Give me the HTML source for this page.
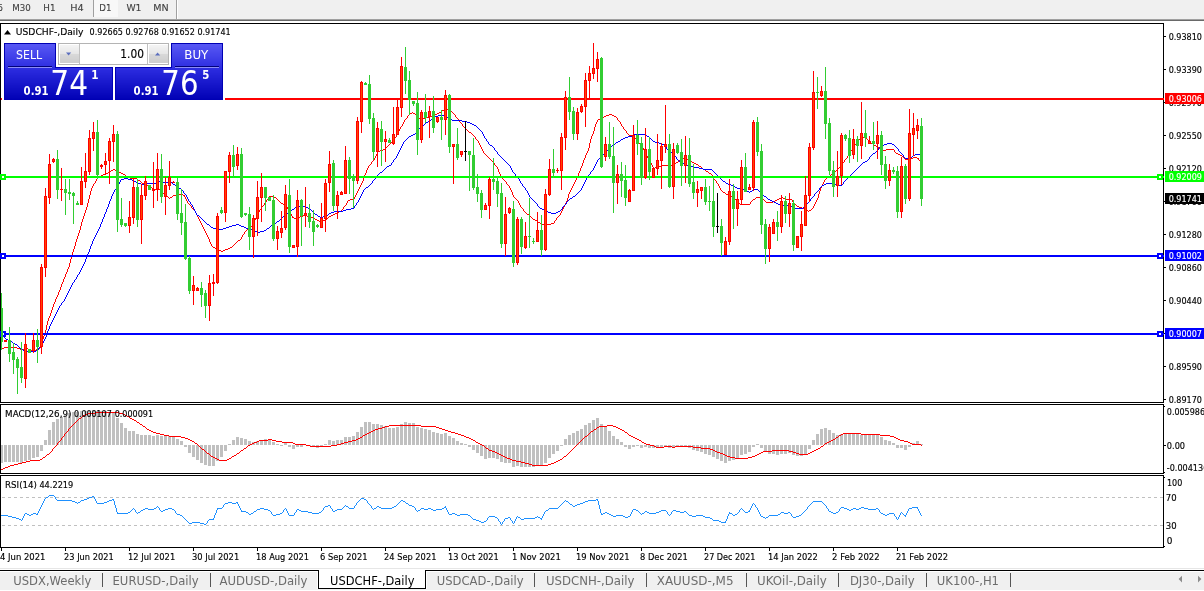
<!DOCTYPE html>
<html lang="en"><head><meta charset="utf-8"><title>USDCHF-,Daily</title>
<style>html,body{margin:0;padding:0;background:#fff;overflow:hidden}body{width:1204px;height:591px}svg{display:block}text{font-family:"DejaVu Sans","Liberation Sans",sans-serif;white-space:pre}</style>
</head><body>
<svg width="1204" height="591" viewBox="0 0 1204 591">
<rect x="0" y="0" width="1204" height="591" fill="#fff"/>
<g shape-rendering="crispEdges">
<rect x="0" y="0" width="1204" height="19" fill="#f0f0f0"/>
<rect x="0" y="19" width="1204" height="1" fill="#a0a0a0"/>
<rect x="0" y="20" width="1204" height="1" fill="#696969"/>
<rect x="94" y="0" width="24" height="17" fill="#f8f8f8"/>
<rect x="93" y="0" width="1" height="17" fill="#a0a0a0"/>
<rect x="176" y="0" width="1" height="19" fill="#a0a0a0"/>
<rect x="177" y="0" width="1" height="19" fill="#ffffff"/>
</g>
<text x="-15.0" y="11" font-size="9" fill="#404040" textLength="18.0" lengthAdjust="spacingAndGlyphs" stroke="#404040" stroke-width="0.1">M15</text>
<text x="12.2" y="11" font-size="9" fill="#404040" textLength="18.5" lengthAdjust="spacingAndGlyphs" stroke="#404040" stroke-width="0.1">M30</text>
<text x="43.3" y="11" font-size="9" fill="#404040" textLength="12.2" lengthAdjust="spacingAndGlyphs" stroke="#404040" stroke-width="0.1">H1</text>
<text x="70.2" y="11" font-size="9" fill="#404040" textLength="13.4" lengthAdjust="spacingAndGlyphs" stroke="#404040" stroke-width="0.1">H4</text>
<text x="99.3" y="11" font-size="9" fill="#404040" textLength="12.2" lengthAdjust="spacingAndGlyphs" stroke="#404040" stroke-width="0.1">D1</text>
<text x="126.4" y="11" font-size="9" fill="#404040" textLength="15.1" lengthAdjust="spacingAndGlyphs" stroke="#404040" stroke-width="0.1">W1</text>
<text x="153.3" y="11" font-size="9" fill="#404040" textLength="15.4" lengthAdjust="spacingAndGlyphs" stroke="#404040" stroke-width="0.1">MN</text>
<g shape-rendering="crispEdges">
<rect x="0" y="23" width="1164" height="1" fill="#000"/>
<rect x="0" y="23" width="1" height="380" fill="#000"/>
<rect x="1163" y="23" width="1" height="380" fill="#000"/>
<rect x="0" y="402" width="1164" height="1" fill="#000"/>
<rect x="0" y="404" width="1164" height="1" fill="#000"/>
<rect x="0" y="404" width="1" height="70" fill="#000"/>
<rect x="1163" y="404" width="1" height="70" fill="#000"/>
<rect x="0" y="473" width="1164" height="1" fill="#000"/>
<rect x="0" y="475" width="1164" height="1" fill="#000"/>
<rect x="0" y="475" width="1" height="73" fill="#000"/>
<rect x="1163" y="475" width="1" height="73" fill="#000"/>
<rect x="0" y="547" width="1164" height="1" fill="#000"/>
<rect x="1164" y="36" width="2" height="1" fill="#000"/>
<rect x="1164" y="69" width="2" height="1" fill="#000"/>
<rect x="1164" y="102" width="2" height="1" fill="#000"/>
<rect x="1164" y="135" width="2" height="1" fill="#000"/>
<rect x="1164" y="168" width="2" height="1" fill="#000"/>
<rect x="1164" y="201" width="2" height="1" fill="#000"/>
<rect x="1164" y="234" width="2" height="1" fill="#000"/>
<rect x="1164" y="267" width="2" height="1" fill="#000"/>
<rect x="1164" y="300" width="2" height="1" fill="#000"/>
<rect x="1164" y="333" width="2" height="1" fill="#000"/>
<rect x="1164" y="366" width="2" height="1" fill="#000"/>
<rect x="1164" y="399" width="2" height="1" fill="#000"/>
<rect x="1164" y="406" width="1" height="1" fill="#000"/>
<rect x="1164" y="472" width="1" height="1" fill="#000"/>
<rect x="1164" y="477" width="1" height="1" fill="#000"/>
<rect x="1164" y="546" width="1" height="1" fill="#000"/>
<rect x="1164" y="445" width="2" height="1" fill="#000"/>
<rect x="1" y="548" width="1" height="3" fill="#000"/>
<rect x="65" y="548" width="1" height="3" fill="#000"/>
<rect x="129" y="548" width="1" height="3" fill="#000"/>
<rect x="193" y="548" width="1" height="3" fill="#000"/>
<rect x="257" y="548" width="1" height="3" fill="#000"/>
<rect x="321" y="548" width="1" height="3" fill="#000"/>
<rect x="385" y="548" width="1" height="3" fill="#000"/>
<rect x="449" y="548" width="1" height="3" fill="#000"/>
<rect x="513" y="548" width="1" height="3" fill="#000"/>
<rect x="577" y="548" width="1" height="3" fill="#000"/>
<rect x="641" y="548" width="1" height="3" fill="#000"/>
<rect x="705" y="548" width="1" height="3" fill="#000"/>
<rect x="769" y="548" width="1" height="3" fill="#000"/>
<rect x="833" y="548" width="1" height="3" fill="#000"/>
<rect x="897" y="548" width="1" height="3" fill="#000"/>
</g>
<text x="1168.7" y="40" font-size="9" fill="#000" textLength="33.3" lengthAdjust="spacingAndGlyphs" stroke="#000" stroke-width="0.15">0.93810</text>
<text x="1168.7" y="73" font-size="9" fill="#000" textLength="33.3" lengthAdjust="spacingAndGlyphs" stroke="#000" stroke-width="0.15">0.93390</text>
<text x="1168.7" y="106" font-size="9" fill="#000" textLength="33.3" lengthAdjust="spacingAndGlyphs" stroke="#000" stroke-width="0.15">0.92970</text>
<text x="1168.7" y="139" font-size="9" fill="#000" textLength="33.3" lengthAdjust="spacingAndGlyphs" stroke="#000" stroke-width="0.15">0.92550</text>
<text x="1168.7" y="172" font-size="9" fill="#000" textLength="33.3" lengthAdjust="spacingAndGlyphs" stroke="#000" stroke-width="0.15">0.92120</text>
<text x="1168.7" y="205" font-size="9" fill="#000" textLength="33.3" lengthAdjust="spacingAndGlyphs" stroke="#000" stroke-width="0.15">0.91700</text>
<text x="1168.7" y="238" font-size="9" fill="#000" textLength="33.3" lengthAdjust="spacingAndGlyphs" stroke="#000" stroke-width="0.15">0.91280</text>
<text x="1168.7" y="271" font-size="9" fill="#000" textLength="33.3" lengthAdjust="spacingAndGlyphs" stroke="#000" stroke-width="0.15">0.90860</text>
<text x="1168.7" y="304" font-size="9" fill="#000" textLength="33.3" lengthAdjust="spacingAndGlyphs" stroke="#000" stroke-width="0.15">0.90440</text>
<text x="1168.7" y="337" font-size="9" fill="#000" textLength="33.3" lengthAdjust="spacingAndGlyphs" stroke="#000" stroke-width="0.15">0.90020</text>
<text x="1168.7" y="370" font-size="9" fill="#000" textLength="33.3" lengthAdjust="spacingAndGlyphs" stroke="#000" stroke-width="0.15">0.89590</text>
<text x="1168.7" y="403" font-size="9" fill="#000" textLength="33.3" lengthAdjust="spacingAndGlyphs" stroke="#000" stroke-width="0.15">0.89170</text>
<text x="1166.8" y="415" font-size="9" fill="#000" textLength="38.2" lengthAdjust="spacingAndGlyphs" stroke="#000" stroke-width="0.15">0.005986</text>
<text x="1166.8" y="449" font-size="9" fill="#000" textLength="18.3" lengthAdjust="spacingAndGlyphs" stroke="#000" stroke-width="0.15">0.00</text>
<text x="1166.8" y="471" font-size="9" fill="#000" textLength="41.5" lengthAdjust="spacingAndGlyphs" stroke="#000" stroke-width="0.15">-0.004136</text>
<text x="1167.0" y="486" font-size="9" fill="#000" textLength="15.3" lengthAdjust="spacingAndGlyphs" stroke="#000" stroke-width="0.15">100</text>
<text x="1165.8" y="501" font-size="9" fill="#000" textLength="10.8" lengthAdjust="spacingAndGlyphs" stroke="#000" stroke-width="0.15">70</text>
<text x="1165.8" y="529" font-size="9" fill="#000" textLength="10.8" lengthAdjust="spacingAndGlyphs" stroke="#000" stroke-width="0.15">30</text>
<text x="1166.8" y="544" font-size="9" fill="#000" textLength="5.7" lengthAdjust="spacingAndGlyphs" stroke="#000" stroke-width="0.15">0</text>
<text x="0.0" y="560" font-size="9" fill="#000" textLength="45.5" lengthAdjust="spacingAndGlyphs" stroke="#000" stroke-width="0.15">4 Jun 2021</text>
<text x="64.0" y="560" font-size="9" fill="#000" textLength="49.7" lengthAdjust="spacingAndGlyphs" stroke="#000" stroke-width="0.15">23 Jun 2021</text>
<text x="128.0" y="560" font-size="9" fill="#000" textLength="47.2" lengthAdjust="spacingAndGlyphs" stroke="#000" stroke-width="0.15">12 Jul 2021</text>
<text x="192.0" y="560" font-size="9" fill="#000" textLength="47.2" lengthAdjust="spacingAndGlyphs" stroke="#000" stroke-width="0.15">30 Jul 2021</text>
<text x="256.0" y="560" font-size="9" fill="#000" textLength="53.0" lengthAdjust="spacingAndGlyphs" stroke="#000" stroke-width="0.15">18 Aug 2021</text>
<text x="320.0" y="560" font-size="9" fill="#000" textLength="47.5" lengthAdjust="spacingAndGlyphs" stroke="#000" stroke-width="0.15">6 Sep 2021</text>
<text x="384.0" y="560" font-size="9" fill="#000" textLength="52.4" lengthAdjust="spacingAndGlyphs" stroke="#000" stroke-width="0.15">24 Sep 2021</text>
<text x="448.0" y="560" font-size="9" fill="#000" textLength="50.8" lengthAdjust="spacingAndGlyphs" stroke="#000" stroke-width="0.15">13 Oct 2021</text>
<text x="512.0" y="560" font-size="9" fill="#000" textLength="48.8" lengthAdjust="spacingAndGlyphs" stroke="#000" stroke-width="0.15">1 Nov 2021</text>
<text x="576.0" y="560" font-size="9" fill="#000" textLength="53.6" lengthAdjust="spacingAndGlyphs" stroke="#000" stroke-width="0.15">19 Nov 2021</text>
<text x="640.0" y="560" font-size="9" fill="#000" textLength="47.8" lengthAdjust="spacingAndGlyphs" stroke="#000" stroke-width="0.15">8 Dec 2021</text>
<text x="704.0" y="560" font-size="9" fill="#000" textLength="51.5" lengthAdjust="spacingAndGlyphs" stroke="#000" stroke-width="0.15">27 Dec 2021</text>
<text x="768.0" y="560" font-size="9" fill="#000" textLength="49.9" lengthAdjust="spacingAndGlyphs" stroke="#000" stroke-width="0.15">14 Jan 2022</text>
<text x="832.0" y="560" font-size="9" fill="#000" textLength="47.7" lengthAdjust="spacingAndGlyphs" stroke="#000" stroke-width="0.15">2 Feb 2022</text>
<text x="896.0" y="560" font-size="9" fill="#000" textLength="52.2" lengthAdjust="spacingAndGlyphs" stroke="#000" stroke-width="0.15">21 Feb 2022</text>
<g shape-rendering="crispEdges">
<line x1="2" y1="497.5" x2="1163" y2="497.5" stroke="#c0c0c0" stroke-width="1" stroke-dasharray="3 3"/>
<line x1="2" y1="525.5" x2="1163" y2="525.5" stroke="#c0c0c0" stroke-width="1" stroke-dasharray="3 3"/>
</g>
<g>
<g shape-rendering="crispEdges" fill="#c0c0c0">
<rect x="1" y="445" width="2" height="18"/>
<rect x="4" y="445" width="3" height="17"/>
<rect x="8" y="445" width="3" height="17"/>
<rect x="12" y="445" width="3" height="17"/>
<rect x="16" y="445" width="3" height="17"/>
<rect x="20" y="445" width="3" height="18"/>
<rect x="24" y="445" width="3" height="16"/>
<rect x="28" y="445" width="3" height="15"/>
<rect x="32" y="445" width="3" height="13"/>
<rect x="36" y="445" width="3" height="12"/>
<rect x="40" y="445" width="3" height="6"/>
<rect x="44" y="440" width="3" height="5"/>
<rect x="48" y="430" width="3" height="15"/>
<rect x="52" y="422" width="3" height="23"/>
<rect x="56" y="419" width="3" height="26"/>
<rect x="60" y="417" width="3" height="28"/>
<rect x="64" y="415" width="3" height="30"/>
<rect x="68" y="413" width="3" height="32"/>
<rect x="72" y="412" width="3" height="33"/>
<rect x="76" y="412" width="3" height="33"/>
<rect x="80" y="411" width="3" height="34"/>
<rect x="84" y="411" width="3" height="34"/>
<rect x="88" y="411" width="3" height="34"/>
<rect x="92" y="410" width="3" height="35"/>
<rect x="96" y="411" width="3" height="34"/>
<rect x="100" y="411" width="3" height="34"/>
<rect x="104" y="411" width="3" height="34"/>
<rect x="108" y="412" width="3" height="33"/>
<rect x="112" y="413" width="3" height="32"/>
<rect x="116" y="418" width="3" height="27"/>
<rect x="120" y="423" width="3" height="22"/>
<rect x="124" y="428" width="3" height="17"/>
<rect x="128" y="431" width="3" height="14"/>
<rect x="132" y="431" width="3" height="14"/>
<rect x="136" y="434" width="3" height="11"/>
<rect x="140" y="435" width="3" height="10"/>
<rect x="144" y="435" width="3" height="10"/>
<rect x="148" y="435" width="3" height="10"/>
<rect x="152" y="436" width="3" height="9"/>
<rect x="156" y="435" width="3" height="10"/>
<rect x="160" y="436" width="3" height="9"/>
<rect x="164" y="436" width="3" height="9"/>
<rect x="168" y="436" width="3" height="9"/>
<rect x="172" y="437" width="3" height="8"/>
<rect x="176" y="439" width="3" height="6"/>
<rect x="180" y="441" width="3" height="4"/>
<rect x="184" y="445" width="3" height="2"/>
<rect x="188" y="445" width="3" height="8"/>
<rect x="192" y="445" width="3" height="12"/>
<rect x="196" y="445" width="3" height="15"/>
<rect x="200" y="445" width="3" height="18"/>
<rect x="204" y="445" width="3" height="20"/>
<rect x="208" y="445" width="3" height="21"/>
<rect x="212" y="445" width="3" height="21"/>
<rect x="216" y="445" width="3" height="16"/>
<rect x="220" y="445" width="3" height="12"/>
<rect x="224" y="445" width="3" height="6"/>
<rect x="228" y="444" width="3" height="1"/>
<rect x="232" y="440" width="3" height="5"/>
<rect x="236" y="437" width="3" height="8"/>
<rect x="240" y="438" width="3" height="7"/>
<rect x="244" y="439" width="3" height="6"/>
<rect x="248" y="441" width="3" height="4"/>
<rect x="252" y="442" width="3" height="3"/>
<rect x="256" y="441" width="3" height="4"/>
<rect x="260" y="440" width="3" height="5"/>
<rect x="264" y="439" width="3" height="6"/>
<rect x="268" y="440" width="3" height="5"/>
<rect x="272" y="442" width="3" height="3"/>
<rect x="276" y="444" width="3" height="1"/>
<rect x="280" y="445" width="3" height="1"/>
<rect x="284" y="443" width="3" height="2"/>
<rect x="288" y="445" width="3" height="2"/>
<rect x="292" y="445" width="3" height="4"/>
<rect x="296" y="445" width="3" height="2"/>
<rect x="300" y="445" width="3" height="2"/>
<rect x="308" y="445" width="3" height="1"/>
<rect x="312" y="445" width="3" height="1"/>
<rect x="316" y="445" width="3" height="3"/>
<rect x="320" y="445" width="3" height="1"/>
<rect x="324" y="444" width="3" height="1"/>
<rect x="328" y="440" width="3" height="5"/>
<rect x="332" y="441" width="3" height="4"/>
<rect x="336" y="440" width="3" height="5"/>
<rect x="340" y="440" width="3" height="5"/>
<rect x="344" y="437" width="3" height="8"/>
<rect x="348" y="437" width="3" height="8"/>
<rect x="352" y="436" width="3" height="9"/>
<rect x="356" y="432" width="3" height="13"/>
<rect x="360" y="427" width="3" height="18"/>
<rect x="364" y="422" width="3" height="23"/>
<rect x="368" y="422" width="3" height="23"/>
<rect x="372" y="424" width="3" height="21"/>
<rect x="376" y="424" width="3" height="21"/>
<rect x="380" y="425" width="3" height="20"/>
<rect x="384" y="426" width="3" height="19"/>
<rect x="388" y="428" width="3" height="17"/>
<rect x="392" y="428" width="3" height="17"/>
<rect x="396" y="427" width="3" height="18"/>
<rect x="400" y="424" width="3" height="21"/>
<rect x="404" y="422" width="3" height="23"/>
<rect x="408" y="423" width="3" height="22"/>
<rect x="412" y="423" width="3" height="22"/>
<rect x="416" y="427" width="3" height="18"/>
<rect x="420" y="428" width="3" height="17"/>
<rect x="424" y="429" width="3" height="16"/>
<rect x="428" y="430" width="3" height="15"/>
<rect x="432" y="432" width="3" height="13"/>
<rect x="436" y="433" width="3" height="12"/>
<rect x="440" y="434" width="3" height="11"/>
<rect x="444" y="433" width="3" height="12"/>
<rect x="448" y="436" width="3" height="9"/>
<rect x="452" y="438" width="3" height="7"/>
<rect x="456" y="441" width="3" height="4"/>
<rect x="460" y="443" width="3" height="2"/>
<rect x="464" y="444" width="3" height="1"/>
<rect x="468" y="445" width="3" height="2"/>
<rect x="472" y="445" width="3" height="5"/>
<rect x="476" y="445" width="3" height="8"/>
<rect x="480" y="445" width="3" height="11"/>
<rect x="484" y="445" width="3" height="14"/>
<rect x="488" y="445" width="3" height="13"/>
<rect x="492" y="445" width="3" height="13"/>
<rect x="496" y="445" width="3" height="14"/>
<rect x="500" y="445" width="3" height="17"/>
<rect x="504" y="445" width="3" height="18"/>
<rect x="508" y="445" width="3" height="18"/>
<rect x="512" y="445" width="3" height="22"/>
<rect x="516" y="445" width="3" height="21"/>
<rect x="520" y="445" width="3" height="22"/>
<rect x="524" y="445" width="3" height="22"/>
<rect x="528" y="445" width="3" height="22"/>
<rect x="532" y="445" width="3" height="22"/>
<rect x="536" y="445" width="3" height="20"/>
<rect x="540" y="445" width="3" height="20"/>
<rect x="544" y="445" width="3" height="18"/>
<rect x="548" y="445" width="3" height="13"/>
<rect x="552" y="445" width="3" height="9"/>
<rect x="556" y="445" width="3" height="6"/>
<rect x="560" y="445" width="3" height="1"/>
<rect x="564" y="439" width="3" height="6"/>
<rect x="568" y="435" width="3" height="10"/>
<rect x="572" y="433" width="3" height="12"/>
<rect x="576" y="431" width="3" height="14"/>
<rect x="580" y="429" width="3" height="16"/>
<rect x="584" y="425" width="3" height="20"/>
<rect x="588" y="423" width="3" height="22"/>
<rect x="592" y="420" width="3" height="25"/>
<rect x="596" y="418" width="3" height="27"/>
<rect x="600" y="424" width="3" height="21"/>
<rect x="604" y="426" width="3" height="19"/>
<rect x="608" y="431" width="3" height="14"/>
<rect x="612" y="436" width="3" height="9"/>
<rect x="616" y="439" width="3" height="6"/>
<rect x="620" y="442" width="3" height="3"/>
<rect x="624" y="445" width="3" height="2"/>
<rect x="628" y="445" width="3" height="4"/>
<rect x="632" y="445" width="3" height="2"/>
<rect x="636" y="445" width="3" height="1"/>
<rect x="640" y="445" width="3" height="3"/>
<rect x="644" y="445" width="3" height="2"/>
<rect x="648" y="445" width="3" height="3"/>
<rect x="652" y="445" width="3" height="3"/>
<rect x="656" y="445" width="3" height="3"/>
<rect x="660" y="445" width="3" height="2"/>
<rect x="664" y="445" width="3" height="1"/>
<rect x="668" y="445" width="3" height="3"/>
<rect x="672" y="445" width="3" height="3"/>
<rect x="676" y="445" width="3" height="1"/>
<rect x="680" y="445" width="3" height="1"/>
<rect x="684" y="445" width="3" height="1"/>
<rect x="688" y="445" width="3" height="3"/>
<rect x="692" y="445" width="3" height="5"/>
<rect x="696" y="445" width="3" height="6"/>
<rect x="700" y="445" width="3" height="7"/>
<rect x="704" y="445" width="3" height="9"/>
<rect x="708" y="445" width="3" height="10"/>
<rect x="712" y="445" width="3" height="12"/>
<rect x="716" y="445" width="3" height="14"/>
<rect x="720" y="445" width="3" height="16"/>
<rect x="724" y="445" width="3" height="18"/>
<rect x="728" y="445" width="3" height="16"/>
<rect x="732" y="445" width="3" height="15"/>
<rect x="736" y="445" width="3" height="13"/>
<rect x="740" y="445" width="3" height="10"/>
<rect x="744" y="445" width="3" height="9"/>
<rect x="748" y="445" width="3" height="7"/>
<rect x="752" y="445" width="3" height="2"/>
<rect x="756" y="444" width="3" height="1"/>
<rect x="760" y="445" width="3" height="3"/>
<rect x="764" y="445" width="3" height="6"/>
<rect x="768" y="445" width="3" height="9"/>
<rect x="772" y="445" width="3" height="9"/>
<rect x="776" y="445" width="3" height="10"/>
<rect x="780" y="445" width="3" height="9"/>
<rect x="784" y="445" width="3" height="9"/>
<rect x="788" y="445" width="3" height="8"/>
<rect x="792" y="445" width="3" height="10"/>
<rect x="796" y="445" width="3" height="11"/>
<rect x="800" y="445" width="3" height="11"/>
<rect x="804" y="445" width="3" height="10"/>
<rect x="808" y="445" width="3" height="4"/>
<rect x="812" y="440" width="3" height="5"/>
<rect x="816" y="434" width="3" height="11"/>
<rect x="820" y="429" width="3" height="16"/>
<rect x="824" y="428" width="3" height="17"/>
<rect x="828" y="430" width="3" height="15"/>
<rect x="832" y="433" width="3" height="12"/>
<rect x="836" y="435" width="3" height="10"/>
<rect x="840" y="434" width="3" height="11"/>
<rect x="844" y="434" width="3" height="11"/>
<rect x="848" y="434" width="3" height="11"/>
<rect x="852" y="434" width="3" height="11"/>
<rect x="856" y="434" width="3" height="11"/>
<rect x="860" y="435" width="3" height="10"/>
<rect x="864" y="435" width="3" height="10"/>
<rect x="868" y="435" width="3" height="10"/>
<rect x="872" y="435" width="3" height="10"/>
<rect x="876" y="435" width="3" height="10"/>
<rect x="880" y="437" width="3" height="8"/>
<rect x="884" y="440" width="3" height="5"/>
<rect x="888" y="441" width="3" height="4"/>
<rect x="892" y="443" width="3" height="2"/>
<rect x="896" y="445" width="3" height="3"/>
<rect x="900" y="445" width="3" height="3"/>
<rect x="904" y="445" width="3" height="5"/>
<rect x="908" y="445" width="3" height="2"/>
<rect x="912" y="443" width="3" height="2"/>
<rect x="916" y="441" width="3" height="4"/>
<rect x="920" y="444" width="3" height="1"/>
</g>
<path d="M160 434h4v1h-4zM365 434h2v1h-2zM458 434h3v1h-3zM841 434h2v1h-2zM861 434h19v1h-19zM188 439h2v1h-2zM268 439h4v1h-4zM356 439h2v1h-2zM471 439h2v1h-2zM637 439h2v1h-2zM833 439h2v1h-2zM898 439h2v1h-2zM192 441h2v1h-2zM257 441h2v1h-2zM276 441h6v1h-6zM348 441h4v1h-4zM829 441h2v1h-2zM904 441h4v1h-4zM254 442h3v1h-3zM282 442h11v1h-11zM344 442h4v1h-4zM476 442h2v1h-2zM642 442h2v1h-2zM827 442h2v1h-2zM908 442h2v1h-2zM143 426h2v1h-2zM385 426h4v1h-4zM421 426h15v1h-15zM599 426h8v1h-8zM613 426h3v1h-3zM47 454h2v1h-2zM499 454h2v1h-2zM723 454h2v1h-2zM757 454h2v1h-2zM799 454h9v1h-9zM310 446h21v1h-21zM654 446h2v1h-2zM664 446h8v1h-8zM675 446h18v1h-18zM821 446h2v1h-2zM211 456h2v1h-2zM232 456h2v1h-2zM503 456h2v1h-2zM564 456h2v1h-2zM727 456h3v1h-3zM752 456h3v1h-3zM156 433h4v1h-4zM367 433h2v1h-2zM455 433h3v1h-3zM843 433h18v1h-18zM40 459h2v1h-2zM217 459h2v1h-2zM227 459h2v1h-2zM510 459h2v1h-2zM560 459h2v1h-2zM207 453h2v1h-2zM237 453h2v1h-2zM497 453h2v1h-2zM720 453h3v1h-3zM759 453h2v1h-2zM796 453h3v1h-3zM808 453h2v1h-2zM18 463h4v1h-4zM525 463h4v1h-4zM551 463h3v1h-3zM215 458h2v1h-2zM229 458h2v1h-2zM507 458h3v1h-3zM735 458h13v1h-13zM26 461h4v1h-4zM516 461h5v1h-5zM556 461h2v1h-2zM164 435h5v1h-5zM363 435h2v1h-2zM461 435h3v1h-3zM629 435h2v1h-2zM839 435h2v1h-2zM880 435h10v1h-10zM378 428h4v1h-4zM439 428h3v1h-3zM618 428h2v1h-2zM43 457h2v1h-2zM213 457h2v1h-2zM505 457h2v1h-2zM730 457h5v1h-5zM748 457h4v1h-4zM241 450h2v1h-2zM489 450h3v1h-3zM713 450h2v1h-2zM772 450h17v1h-17zM814 450h2v1h-2zM234 455h2v1h-2zM501 455h2v1h-2zM725 455h2v1h-2zM755 455h2v1h-2zM30 460h10v1h-10zM219 460h8v1h-8zM512 460h4v1h-4zM558 460h2v1h-2zM202 449h2v1h-2zM710 449h3v1h-3zM816 449h2v1h-2zM10 465h4v1h-4zM532 465h16v1h-16zM95 412h24v1h-24zM250 444h2v1h-2zM295 444h11v1h-11zM337 444h4v1h-4zM480 444h2v1h-2zM646 444h4v1h-4zM912 444h9v1h-9zM382 427h3v1h-3zM436 427h3v1h-3zM597 427h2v1h-2zM616 427h2v1h-2zM169 436h12v1h-12zM464 436h2v1h-2zM585 436h2v1h-2zM631 436h2v1h-2zM890 436h4v1h-4zM153 432h3v1h-3zM369 432h2v1h-2zM451 432h4v1h-4zM625 432h2v1h-2zM147 429h2v1h-2zM375 429h3v1h-3zM442 429h3v1h-3zM594 429h2v1h-2zM620 429h2v1h-2zM185 438h3v1h-3zM358 438h2v1h-2zM469 438h2v1h-2zM635 438h2v1h-2zM896 438h2v1h-2zM190 440h2v1h-2zM259 440h9v1h-9zM272 440h4v1h-4zM352 440h4v1h-4zM473 440h2v1h-2zM639 440h2v1h-2zM831 440h2v1h-2zM900 440h4v1h-4zM244 448h2v1h-2zM486 448h2v1h-2zM701 448h9v1h-9zM818 448h2v1h-2zM656 447h8v1h-8zM672 447h3v1h-3zM693 447h8v1h-8zM151 431h2v1h-2zM371 431h2v1h-2zM448 431h3v1h-3zM591 431h2v1h-2zM389 425h32v1h-32zM607 425h6v1h-6zM248 445h2v1h-2zM306 445h4v1h-4zM331 445h6v1h-6zM482 445h2v1h-2zM650 445h4v1h-4zM3 468h2v1h-2zM492 451h3v1h-3zM715 451h2v1h-2zM763 451h9v1h-9zM789 451h4v1h-4zM812 451h2v1h-2zM495 452h2v1h-2zM717 452h3v1h-3zM761 452h2v1h-2zM793 452h3v1h-3zM810 452h2v1h-2zM181 437h4v1h-4zM360 437h2v1h-2zM466 437h3v1h-3zM633 437h2v1h-2zM836 437h2v1h-2zM894 437h2v1h-2zM79 418h2v1h-2zM130 418h2v1h-2zM22 462h4v1h-4zM521 462h4v1h-4zM554 462h2v1h-2zM134 420h2v1h-2zM14 464h4v1h-4zM529 464h3v1h-3zM548 464h3v1h-3zM88 413h7v1h-7zM119 413h4v1h-4zM127 416h2v1h-2zM195 443h2v1h-2zM252 443h2v1h-2zM293 443h2v1h-2zM341 443h3v1h-3zM478 443h2v1h-2zM644 443h2v1h-2zM825 443h2v1h-2zM910 443h2v1h-2zM149 430h2v1h-2zM373 430h2v1h-2zM445 430h3v1h-3zM622 430h2v1h-2zM85 414h3v1h-3zM123 414h2v1h-2zM5 467h3v1h-3zM140 424h2v1h-2zM8 466h2v1h-2zM83 415h2v1h-2zM125 415h2v1h-2zM132 419h2v1h-2zM1 469h2v1h-2zM137 422h2v1h-2zM209 454h1v1h-1zM577 444h1v1h-1zM49 453h1v1h-1zM562 458h1v1h-1zM567 454h1v1h-1zM568 453h1v1h-1zM62 437h1v1h-1zM63 436h1v1h-1zM566 455h1v1h-1zM58 442h1v1h-1zM59 441h1v1h-1zM61 438h1v2h-1zM204 450h1v1h-1zM57 443h1v2h-1zM835 438h1v1h-1zM53 448h1v1h-1zM824 444h1v1h-1zM488 449h1v1h-1zM205 451h1v1h-1zM71 426h1v1h-1zM139 423h1v1h-1zM67 431h1v1h-1zM69 428h1v1h-1zM70 427h1v1h-1zM838 436h1v1h-1zM576 445h1v1h-1zM65 433h1v1h-1zM66 432h1v1h-1zM68 429h1v2h-1zM574 447h1v1h-1zM575 446h1v1h-1zM247 446h1v1h-1zM64 434h1v2h-1zM921 445h1v1h-1zM475 441h1v1h-1zM573 448h1v1h-1zM246 447h1v1h-1zM197 444h1v1h-1zM236 454h1v1h-1zM145 427h1v1h-1zM823 445h1v1h-1zM239 452h1v1h-1zM198 445h1v1h-1zM77 420h1v1h-1zM78 419h1v1h-1zM641 441h1v1h-1zM590 432h1v1h-1zM627 433h1v1h-1zM628 434h1v1h-1zM199 446h1v1h-1zM76 421h1v1h-1zM210 455h1v1h-1zM82 416h1v1h-1zM146 428h1v1h-1zM583 438h1v1h-1zM584 437h1v1h-1zM589 433h1v1h-1zM362 436h1v1h-1zM582 439h1v1h-1zM55 446h1v1h-1zM587 435h1v1h-1zM56 445h1v1h-1zM129 417h1v1h-1zM51 451h1v1h-1zM52 449h1v2h-1zM484 446h1v1h-1zM572 449h1v1h-1zM201 448h1v1h-1zM42 458h1v1h-1zM571 450h1v1h-1zM240 451h1v1h-1zM45 456h1v1h-1zM231 457h1v1h-1zM569 452h1v1h-1zM570 451h1v1h-1zM485 447h1v1h-1zM243 449h1v1h-1zM60 440h1v1h-1zM563 457h1v1h-1zM81 417h1v1h-1zM588 434h1v1h-1zM593 430h1v1h-1zM200 447h1v1h-1zM74 423h1v1h-1zM75 422h1v1h-1zM581 440h1v1h-1zM820 447h1v1h-1zM72 425h1v1h-1zM73 424h1v1h-1zM596 428h1v1h-1zM579 442h1v1h-1zM194 442h1v1h-1zM580 441h1v1h-1zM46 455h1v1h-1zM54 447h1v1h-1zM624 431h1v1h-1zM578 443h1v1h-1zM50 452h1v1h-1zM136 421h1v1h-1zM206 452h1v1h-1zM142 425h1v1h-1z" fill="#ff0000" shape-rendering="crispEdges"/>
</g>
<g>
<path d="M145 508h3v1h-3zM154 508h2v1h-2zM168 508h4v1h-4zM217 508h5v1h-5zM260 508h4v1h-4zM349 508h5v1h-5zM374 508h2v1h-2zM381 508h11v1h-11zM421 508h3v1h-3zM428 508h3v1h-3zM442 508h2v1h-2zM549 508h9v1h-9zM844 508h3v1h-3zM853 508h3v1h-3zM859 508h2v1h-2zM864 508h4v1h-4zM876 508h2v1h-2zM909 508h3v1h-3zM128 512h2v1h-2zM138 512h2v1h-2zM246 512h2v1h-2zM308 512h4v1h-4zM319 512h2v1h-2zM605 512h2v1h-2zM647 512h2v1h-2zM656 512h3v1h-3zM680 512h4v1h-4zM745 512h3v1h-3zM781 512h3v1h-3zM788 512h2v1h-2zM831 512h2v1h-2zM836 512h2v1h-2zM97 503h7v1h-7zM225 503h3v1h-3zM232 503h4v1h-4zM406 503h2v1h-2zM580 503h3v1h-3zM570 504h2v1h-2zM577 504h3v1h-3zM12 517h4v1h-4zM495 517h2v1h-2zM508 517h2v1h-2zM518 517h2v1h-2zM535 517h2v1h-2zM538 517h2v1h-2zM625 517h3v1h-3zM705 517h5v1h-5zM763 517h2v1h-2zM766 517h2v1h-2zM793 517h3v1h-3zM57 500h15v1h-15zM81 500h3v1h-3zM109 500h3v1h-3zM401 500h2v1h-2zM588 500h8v1h-8zM141 510h2v1h-2zM163 510h2v1h-2zM268 510h2v1h-2zM299 510h2v1h-2zM335 510h2v1h-2zM418 510h2v1h-2zM433 510h3v1h-3zM546 510h2v1h-2zM636 510h2v1h-2zM661 510h5v1h-5zM673 510h3v1h-3zM849 510h2v1h-2zM75 502h2v1h-2zM78 502h2v1h-2zM104 502h3v1h-3zM228 502h4v1h-4zM236 502h2v1h-2zM583 502h2v1h-2zM19 519h2v1h-2zM209 519h5v1h-5zM473 519h3v1h-3zM521 519h3v1h-3zM325 506h3v1h-3zM346 506h2v1h-2zM377 506h2v1h-2zM394 506h2v1h-2zM412 506h2v1h-2zM573 506h2v1h-2zM1 515h7v1h-7zM29 515h2v1h-2zM180 515h2v1h-2zM273 515h3v1h-3zM289 515h5v1h-5zM457 515h3v1h-3zM468 515h2v1h-2zM611 515h2v1h-2zM616 515h7v1h-7zM689 515h3v1h-3zM696 515h7v1h-7zM733 515h2v1h-2zM769 515h9v1h-9zM799 515h2v1h-2zM885 515h2v1h-2zM904 515h2v1h-2zM143 509h2v1h-2zM148 509h6v1h-6zM165 509h3v1h-3zM172 509h2v1h-2zM257 509h3v1h-3zM264 509h4v1h-4zM297 509h2v1h-2zM337 509h5v1h-5zM424 509h4v1h-4zM431 509h2v1h-2zM436 509h6v1h-6zM633 509h3v1h-3zM847 509h2v1h-2zM851 509h2v1h-2zM856 509h3v1h-3zM868 509h8v1h-8zM328 505h2v1h-2zM409 505h3v1h-3zM575 505h2v1h-2zM72 501h3v1h-3zM107 501h2v1h-2zM403 501h2v1h-2zM566 501h2v1h-2zM585 501h3v1h-3zM813 501h9v1h-9zM25 513h2v1h-2zM33 513h3v1h-3zM117 513h11v1h-11zM251 513h2v1h-2zM280 513h2v1h-2zM312 513h7v1h-7zM452 513h3v1h-3zM603 513h2v1h-2zM607 513h2v1h-2zM642 513h2v1h-2zM649 513h7v1h-7zM729 513h3v1h-3zM784 513h4v1h-4zM833 513h3v1h-3zM881 513h2v1h-2zM889 513h5v1h-5zM189 523h3v1h-3zM200 523h4v1h-4zM8 516h4v1h-4zM489 516h6v1h-6zM613 516h3v1h-3zM623 516h2v1h-2zM628 516h2v1h-2zM692 516h4v1h-4zM703 516h2v1h-2zM761 516h2v1h-2zM796 516h3v1h-3zM161 511h2v1h-2zM241 511h5v1h-5zM254 511h2v1h-2zM301 511h7v1h-7zM333 511h2v1h-2zM645 511h2v1h-2zM659 511h2v1h-2zM676 511h4v1h-4zM684 511h2v1h-2zM748 511h2v1h-2zM829 511h2v1h-2zM16 518h3v1h-3zM505 518h3v1h-3zM524 518h11v1h-11zM540 518h2v1h-2zM710 518h2v1h-2zM479 521h2v1h-2zM484 521h2v1h-2zM719 521h2v1h-2zM379 507h2v1h-2zM392 507h2v1h-2zM444 507h2v1h-2zM841 507h3v1h-3zM861 507h3v1h-3zM912 507h6v1h-6zM49 495h5v1h-5zM192 522h8v1h-8zM481 522h3v1h-3zM721 522h5v1h-5zM87 498h2v1h-2zM361 498h3v1h-3zM27 514h2v1h-2zM31 514h2v1h-2zM36 514h2v1h-2zM177 514h3v1h-3zM249 514h2v1h-2zM276 514h4v1h-4zM449 514h3v1h-3zM455 514h2v1h-2zM460 514h8v1h-8zM601 514h2v1h-2zM609 514h2v1h-2zM735 514h2v1h-2zM778 514h2v1h-2zM883 514h2v1h-2zM887 514h2v1h-2zM476 520h3v1h-3zM713 520h6v1h-6zM46 497h2v1h-2zM89 497h3v1h-3zM204 524h2v1h-2zM84 499h3v1h-3zM112 499h2v1h-2zM364 499h2v1h-2zM596 499h2v1h-2zM92 496h2v1h-2zM598 501h1v4h-1zM183 517h1v1h-1zM749 510h1v1h-1zM498 519h1v2h-1zM239 506h1v2h-1zM825 505h1v1h-1zM114 501h1v4h-1zM828 509h1v2h-1zM137 513h1v1h-1zM920 513h1v2h-1zM516 517h1v2h-1zM725 521h1v1h-1zM414 507h1v1h-1zM760 514h1v2h-1zM737 513h1v1h-1zM38 511h1v2h-1zM77 503h1v1h-1zM331 508h1v1h-1zM376 507h1v1h-1zM448 512h1v2h-1zM354 506h1v2h-1zM357 502h1v1h-1zM323 508h1v2h-1zM296 510h1v2h-1zM744 511h1v1h-1zM497 518h1v1h-1zM600 509h1v4h-1zM175 511h1v2h-1zM919 511h1v2h-1zM562 503h1v1h-1zM899 515h1v2h-1zM345 505h1v1h-1zM42 503h1v2h-1zM270 511h1v1h-1zM156 507h1v1h-1zM806 509h1v1h-1zM809 505h1v1h-1zM159 508h1v2h-1zM117 512h1v1h-1zM631 512h1v2h-1zM132 509h1v1h-1zM500 522h1v2h-1zM501 524h1v1h-1zM638 511h1v1h-1zM504 519h1v2h-1zM839 509h1v2h-1zM288 513h1v2h-1zM223 505h1v2h-1zM918 509h1v2h-1zM285 508h1v1h-1zM113 500h1v1h-1zM330 506h1v2h-1zM729 512h1v1h-1zM759 512h1v2h-1zM216 510h1v3h-1zM896 517h1v2h-1zM342 508h1v1h-1zM417 511h1v1h-1zM21 520h1v1h-1zM158 507h1v1h-1zM908 509h1v2h-1zM755 505h1v2h-1zM295 512h1v1h-1zM671 512h1v2h-1zM599 505h1v4h-1zM756 507h1v1h-1zM371 506h1v2h-1zM515 519h1v2h-1zM372 508h1v1h-1zM447 510h1v2h-1zM644 512h1v1h-1zM801 514h1v1h-1zM174 510h1v1h-1zM185 519h1v1h-1zM752 504h1v2h-1zM827 508h1v1h-1zM356 503h1v2h-1zM56 499h1v1h-1zM758 510h1v2h-1zM895 516h1v1h-1zM728 514h1v2h-1zM41 505h1v2h-1zM116 508h1v4h-1zM765 518h1v1h-1zM632 510h1v2h-1zM184 518h1v1h-1zM287 511h1v2h-1zM739 510h1v2h-1zM215 513h1v2h-1zM667 512h1v2h-1zM561 504h1v1h-1zM826 506h1v2h-1zM206 523h1v1h-1zM332 509h1v2h-1zM272 514h1v1h-1zM670 514h1v1h-1zM359 500h1v1h-1zM754 504h1v1h-1zM283 510h1v2h-1zM470 516h1v1h-1zM757 508h1v2h-1zM24 514h1v2h-1zM370 505h1v1h-1zM256 510h1v1h-1zM446 508h1v2h-1zM811 503h1v1h-1zM397 504h1v1h-1zM572 505h1v1h-1zM898 517h1v2h-1zM564 501h1v1h-1zM751 506h1v2h-1zM115 505h1v3h-1zM544 512h1v2h-1zM271 512h1v2h-1zM344 506h1v1h-1zM838 511h1v1h-1zM601 513h1v1h-1zM294 513h1v2h-1zM222 507h1v1h-1zM286 509h1v2h-1zM640 513h1v1h-1zM727 516h1v3h-1zM487 518h1v2h-1zM55 497h1v2h-1zM894 514h1v2h-1zM214 515h1v3h-1zM131 510h1v1h-1zM803 512h1v1h-1zM408 504h1v1h-1zM514 521h1v2h-1zM568 502h1v1h-1zM503 521h1v1h-1zM217 509h1v1h-1zM791 514h1v2h-1zM666 511h1v1h-1zM176 513h1v1h-1zM639 512h1v1h-1zM792 516h1v1h-1zM54 496h1v1h-1zM282 512h1v1h-1zM902 513h1v1h-1zM879 510h1v2h-1zM23 516h1v2h-1zM559 506h1v1h-1zM897 519h1v1h-1zM373 509h1v1h-1zM901 512h1v1h-1zM96 501h1v2h-1zM738 512h1v1h-1zM445 506h1v1h-1zM822 502h1v1h-1zM520 518h1v1h-1zM548 509h1v1h-1zM510 518h1v2h-1zM878 509h1v1h-1zM502 522h1v2h-1zM726 519h1v2h-1zM486 520h1v1h-1zM563 502h1v1h-1zM790 513h1v1h-1zM741 508h1v1h-1zM597 500h1v1h-1zM95 499h1v2h-1zM39 509h1v2h-1zM186 520h1v1h-1zM630 514h1v2h-1zM240 508h1v2h-1zM669 515h1v1h-1zM358 501h1v1h-1zM399 502h1v1h-1zM37 513h1v1h-1zM80 501h1v1h-1zM543 514h1v2h-1zM471 517h1v1h-1zM900 513h1v2h-1zM22 518h1v2h-1zM140 511h1v1h-1zM517 516h1v1h-1zM907 511h1v2h-1zM133 508h1v1h-1zM668 514h1v1h-1zM94 497h1v2h-1zM805 510h1v1h-1zM208 520h1v1h-1zM672 511h1v1h-1zM512 521h1v2h-1zM641 514h1v1h-1zM558 507h1v1h-1zM45 498h1v1h-1zM686 512h1v1h-1zM569 503h1v1h-1zM322 510h1v1h-1zM687 513h1v1h-1zM808 506h1v1h-1zM903 514h1v1h-1zM542 516h1v2h-1zM40 507h1v2h-1zM824 504h1v1h-1zM511 520h1v1h-1zM565 500h1v1h-1zM712 519h1v1h-1zM348 507h1v1h-1zM360 499h1v1h-1zM135 510h1v2h-1zM44 499h1v2h-1zM284 509h1v1h-1zM398 503h1v1h-1zM253 512h1v1h-1zM136 512h1v1h-1zM880 512h1v1h-1zM420 509h1v1h-1zM750 508h1v2h-1zM812 502h1v1h-1zM405 502h1v1h-1zM367 501h1v2h-1zM740 509h1v1h-1zM207 521h1v2h-1zM807 507h1v2h-1zM732 514h1v1h-1zM368 503h1v1h-1zM248 513h1v1h-1zM823 503h1v1h-1zM355 505h1v1h-1zM743 510h1v1h-1zM238 504h1v2h-1zM187 521h1v1h-1zM241 510h1v1h-1zM188 522h1v1h-1zM488 517h1v1h-1zM416 510h1v1h-1zM906 513h1v2h-1zM541 519h1v1h-1zM742 509h1v1h-1zM804 511h1v1h-1zM134 509h1v1h-1zM780 513h1v1h-1zM237 503h1v1h-1zM499 521h1v1h-1zM48 496h1v1h-1zM415 508h1v2h-1zM396 505h1v1h-1zM513 523h1v1h-1zM321 511h1v1h-1zM324 507h1v1h-1zM921 515h1v1h-1zM366 500h1v1h-1zM157 506h1v1h-1zM472 518h1v1h-1zM545 511h1v1h-1zM810 504h1v1h-1zM43 501h1v2h-1zM537 516h1v1h-1zM768 516h1v1h-1zM560 505h1v1h-1zM343 507h1v1h-1zM213 518h1v1h-1zM130 511h1v1h-1zM802 513h1v1h-1zM905 516h1v1h-1zM917 508h1v1h-1zM688 514h1v1h-1zM753 503h1v1h-1zM840 508h1v1h-1zM400 501h1v1h-1zM224 504h1v1h-1zM369 504h1v1h-1zM160 510h1v1h-1zM182 516h1v1h-1z" fill="#1e90ff" shape-rendering="crispEdges"/>
</g>
<g>
<path d="M538 222h2v1h-2zM170 197h2v1h-2zM274 197h2v1h-2zM756 197h6v1h-6zM781 197h2v1h-2zM874 145h2v1h-2zM166 196h2v1h-2zM269 196h5v1h-5zM353 198h2v1h-2zM779 198h2v1h-2zM783 198h2v1h-2zM283 204h2v1h-2zM740 204h10v1h-10zM108 172h2v1h-2zM119 172h2v1h-2zM130 178h7v1h-7zM383 149h2v1h-2zM881 149h2v1h-2zM886 149h8v1h-8zM681 159h2v1h-2zM686 159h2v1h-2zM905 159h3v1h-3zM337 212h2v1h-2zM219 250h2v1h-2zM223 250h2v1h-2zM380 150h3v1h-3zM883 150h3v1h-3zM335 213h2v1h-2zM221 251h2v1h-2zM213 247h2v1h-2zM230 247h2v1h-2zM417 117h2v1h-2zM425 117h4v1h-4zM602 117h2v1h-2zM300 216h3v1h-3zM307 216h4v1h-4zM329 216h2v1h-2zM103 174h3v1h-3zM123 174h2v1h-2zM111 170h2v1h-2zM115 170h2v1h-2zM238 240h2v1h-2zM629 135h5v1h-5zM661 165h11v1h-11zM806 210h2v1h-2zM809 210h2v1h-2zM432 115h2v1h-2zM606 115h3v1h-3zM612 115h2v1h-2zM303 215h4v1h-4zM331 215h2v1h-2zM249 227h2v1h-2zM657 166h4v1h-4zM699 166h2v1h-2zM339 211h2v1h-2zM773 201h2v1h-2zM653 168h2v1h-2zM173 195h4v1h-4zM183 195h2v1h-2zM729 195h2v1h-2zM766 202h7v1h-7zM138 180h2v1h-2zM294 218h3v1h-3zM313 218h2v1h-2zM871 143h2v1h-2zM598 119h2v1h-2zM2 348h2v1h-2zM17 348h3v1h-3zM24 348h4v1h-4zM38 348h2v1h-2zM690 161h2v1h-2zM439 112h2v1h-2zM350 199h3v1h-3zM734 199h2v1h-2zM753 199h2v1h-2zM777 199h2v1h-2zM785 199h7v1h-7zM106 173h2v1h-2zM121 173h2v1h-2zM709 173h2v1h-2zM832 173h2v1h-2zM913 157h4v1h-4zM317 220h2v1h-2zM322 220h3v1h-3zM535 220h2v1h-2zM676 162h2v1h-2zM692 162h2v1h-2zM281 203h2v1h-2zM348 200h2v1h-2zM775 200h2v1h-2zM410 113h2v1h-2zM413 113h2v1h-2zM437 113h2v1h-2zM126 176h2v1h-2zM429 116h3v1h-3zM604 116h2v1h-2zM614 116h2v1h-2zM674 163h2v1h-2zM694 163h2v1h-2zM799 207h3v1h-3zM113 169h2v1h-2zM703 169h2v1h-2zM859 139h2v1h-2zM315 219h2v1h-2zM325 219h2v1h-2zM533 219h2v1h-2zM419 118h6v1h-6zM600 118h2v1h-2zM217 249h2v1h-2zM225 249h3v1h-3zM98 177h2v1h-2zM128 177h2v1h-2zM827 177h2v1h-2zM153 189h7v1h-7zM723 192h2v1h-2zM542 224h9v1h-9zM683 158h3v1h-3zM908 158h5v1h-5zM917 158h2v1h-2zM655 167h2v1h-2zM319 221h3v1h-3zM862 137h3v1h-3zM865 138h2v1h-2zM147 185h2v1h-2zM4 347h13v1h-13zM802 208h2v1h-2zM292 217h2v1h-2zM297 217h3v1h-3zM311 217h2v1h-2zM898 154h2v1h-2zM900 155h2v1h-2zM797 206h2v1h-2zM30 350h2v1h-2zM34 350h2v1h-2zM879 148h2v1h-2zM434 114h3v1h-3zM609 114h3v1h-3zM101 175h2v1h-2zM672 164h2v1h-2zM696 164h2v1h-2zM333 214h2v1h-2zM527 214h2v1h-2zM215 248h2v1h-2zM228 248h2v1h-2zM804 209h2v1h-2zM378 151h2v1h-2zM117 171h2v1h-2zM706 171h2v1h-2zM876 146h2v1h-2zM896 153h2v1h-2zM540 223h2v1h-2zM551 223h3v1h-3zM177 194h6v1h-6zM726 194h3v1h-3zM442 110h2v1h-2zM449 110h2v1h-2zM149 186h2v1h-2zM144 184h3v1h-3zM20 349h4v1h-4zM28 349h2v1h-2zM36 349h2v1h-2zM679 160h2v1h-2zM688 160h2v1h-2zM444 109h5v1h-5zM142 183h2v1h-2zM469 132h2v1h-2zM32 351h2v1h-2zM589 143h1v5h-1zM620 122h1v2h-1zM485 154h1v1h-1zM588 148h1v3h-1zM81 222h1v4h-1zM568 194h1v4h-1zM854 145h1v1h-1zM85 210h1v3h-1zM48 318h1v3h-1zM172 196h1v1h-1zM478 141h1v2h-1zM584 158h1v2h-1zM252 224h1v2h-1zM89 195h1v4h-1zM834 172h1v1h-1zM407 116h1v2h-1zM52 307h1v3h-1zM731 196h1v1h-1zM363 178h1v3h-1zM492 161h1v1h-1zM500 174h1v2h-1zM195 211h1v2h-1zM77 236h1v3h-1zM55 299h1v3h-1zM493 162h1v1h-1zM198 217h1v2h-1zM576 178h1v2h-1zM850 151h1v2h-1zM619 121h1v1h-1zM504 180h1v1h-1zM556 218h1v2h-1zM705 170h1v1h-1zM525 212h1v1h-1zM815 202h1v2h-1zM819 191h1v3h-1zM47 321h1v4h-1zM368 166h1v2h-1zM371 162h1v2h-1zM209 239h1v3h-1zM634 136h1v2h-1zM347 201h1v2h-1zM526 213h1v1h-1zM623 127h1v2h-1zM161 191h1v1h-1zM60 287h1v3h-1zM822 184h1v2h-1zM72 252h1v3h-1zM593 131h1v3h-1zM456 117h1v1h-1zM264 203h1v2h-1zM279 201h1v1h-1zM76 239h1v3h-1zM162 192h1v1h-1zM857 141h1v1h-1zM471 133h1v1h-1zM597 120h1v2h-1zM563 207h1v2h-1zM386 147h1v1h-1zM375 156h1v2h-1zM256 216h1v2h-1zM575 180h1v2h-1zM235 243h1v1h-1zM355 195h1v2h-1zM259 210h1v2h-1zM80 226h1v4h-1zM43 336h1v3h-1zM713 177h1v2h-1zM503 179h1v1h-1zM63 279h1v3h-1zM75 242h1v4h-1zM580 168h1v3h-1zM592 134h1v2h-1zM567 198h1v3h-1zM88 199h1v4h-1zM327 218h1v1h-1zM232 246h1v1h-1zM499 172h1v2h-1zM42 339h1v4h-1zM571 188h1v2h-1zM596 122h1v2h-1zM374 158h1v2h-1zM583 160h1v3h-1zM194 210h1v1h-1zM343 207h1v2h-1zM51 310h1v3h-1zM278 200h1v1h-1zM678 161h1v1h-1zM792 200h1v2h-1zM838 168h1v1h-1zM622 126h1v1h-1zM873 144h1v1h-1zM455 115h1v2h-1zM818 194h1v4h-1zM765 201h1v1h-1zM861 138h1v1h-1zM570 190h1v2h-1zM738 202h1v1h-1zM267 199h1v1h-1zM54 302h1v2h-1zM846 158h1v1h-1zM513 195h1v2h-1zM701 167h1v1h-1zM712 175h1v2h-1zM532 218h1v1h-1zM187 201h1v2h-1zM502 177h1v2h-1zM59 290h1v2h-1zM71 255h1v4h-1zM817 198h1v2h-1zM390 143h1v1h-1zM514 197h1v1h-1zM346 203h1v2h-1zM495 165h1v1h-1zM466 129h1v1h-1zM168 197h1v1h-1zM84 213h1v3h-1zM405 119h1v1h-1zM821 186h1v2h-1zM841 164h1v1h-1zM506 182h1v2h-1zM903 157h1v1h-1zM397 133h1v2h-1zM591 136h1v3h-1zM496 166h1v1h-1zM853 146h1v2h-1zM737 201h1v1h-1zM626 131h1v2h-1zM595 124h1v3h-1zM258 212h1v2h-1zM637 140h1v2h-1zM70 259h1v4h-1zM764 200h1v1h-1zM825 179h1v1h-1zM83 216h1v3h-1zM401 126h1v1h-1zM208 237h1v2h-1zM46 325h1v5h-1zM566 201h1v2h-1zM829 176h1v1h-1zM393 140h1v1h-1zM487 156h1v1h-1zM87 203h1v4h-1zM555 220h1v1h-1zM558 216h1v1h-1zM50 313h1v3h-1zM242 235h1v2h-1zM582 163h1v3h-1zM594 127h1v4h-1zM488 157h1v1h-1zM79 230h1v3h-1zM902 156h1v1h-1zM562 209h1v2h-1zM494 163h1v2h-1zM574 182h1v2h-1zM621 124h1v2h-1zM49 316h1v2h-1zM366 170h1v3h-1zM58 292h1v3h-1zM253 222h1v2h-1zM62 282h1v2h-1zM74 246h1v3h-1zM625 130h1v1h-1zM579 171h1v2h-1zM458 119h1v2h-1zM385 148h1v1h-1zM78 233h1v3h-1zM561 211h1v2h-1zM41 343h1v3h-1zM531 217h1v1h-1zM868 140h1v1h-1zM67 269h1v3h-1zM45 330h1v4h-1zM164 194h1v1h-1zM473 135h1v1h-1zM711 174h1v1h-1zM186 199h1v2h-1zM404 120h1v2h-1zM61 284h1v3h-1zM849 153h1v1h-1zM578 173h1v3h-1zM733 198h1v1h-1zM590 139h1v4h-1zM151 187h1v1h-1zM844 160h1v2h-1zM285 205h1v1h-1zM266 200h1v2h-1zM856 142h1v2h-1zM196 213h1v2h-1zM520 205h1v2h-1zM498 169h1v3h-1zM152 188h1v1h-1zM824 180h1v2h-1zM388 145h1v1h-1zM44 334h1v2h-1zM636 139h1v1h-1zM237 241h1v1h-1zM400 127h1v2h-1zM94 183h1v1h-1zM565 203h1v2h-1zM69 263h1v4h-1zM377 152h1v2h-1zM554 221h1v2h-1zM261 207h1v2h-1zM241 237h1v2h-1zM207 235h1v2h-1zM640 144h1v2h-1zM816 200h1v2h-1zM457 118h1v1h-1zM360 185h1v2h-1zM163 193h1v1h-1zM820 188h1v3h-1zM234 244h1v1h-1zM396 135h1v2h-1zM878 147h1v1h-1zM204 229h1v2h-1zM751 201h1v1h-1zM245 231h1v1h-1zM125 175h1v1h-1zM373 160h1v1h-1zM573 184h1v2h-1zM185 197h1v2h-1zM257 214h1v2h-1zM840 165h1v2h-1zM365 173h1v2h-1zM345 205h1v1h-1zM57 295h1v2h-1zM512 192h1v3h-1zM755 198h1v1h-1zM852 148h1v2h-1zM189 204h1v1h-1zM497 167h1v2h-1zM73 249h1v3h-1zM505 181h1v1h-1zM894 150h1v2h-1zM725 193h1v1h-1zM516 199h1v1h-1zM635 138h1v1h-1zM581 166h1v2h-1zM40 346h1v2h-1zM569 192h1v2h-1zM509 186h1v2h-1zM585 155h1v3h-1zM90 191h1v4h-1zM793 202h1v1h-1zM364 175h1v3h-1zM280 202h1v1h-1zM472 134h1v1h-1zM628 134h1v1h-1zM206 233h1v2h-1zM483 151h1v2h-1zM577 176h1v2h-1zM714 179h1v1h-1zM843 162h1v1h-1zM515 198h1v1h-1zM140 181h1v1h-1zM203 227h1v2h-1zM490 159h1v1h-1zM511 190h1v2h-1zM519 203h1v2h-1zM68 267h1v2h-1zM291 214h1v2h-1zM260 209h1v1h-1zM359 187h1v2h-1zM831 174h1v1h-1zM650 161h1v2h-1zM904 158h1v1h-1zM468 131h1v1h-1zM97 178h1v1h-1zM653 167h1v1h-1zM403 122h1v2h-1zM537 221h1v1h-1zM392 141h1v1h-1zM627 133h1v1h-1zM395 137h1v1h-1zM646 154h1v2h-1zM557 217h1v1h-1zM244 232h1v2h-1zM739 203h1v1h-1zM750 202h1v2h-1zM110 171h1v1h-1zM56 297h1v2h-1zM720 188h1v2h-1zM811 209h1v1h-1zM65 274h1v3h-1zM367 168h1v2h-1zM702 168h1v1h-1zM475 137h1v2h-1zM93 184h1v2h-1zM399 129h1v2h-1zM188 203h1v1h-1zM721 190h1v1h-1zM870 142h1v1h-1zM467 130h1v1h-1zM169 198h1v1h-1zM184 196h1v1h-1zM717 183h1v1h-1zM507 184h1v1h-1zM855 144h1v1h-1zM86 207h1v3h-1zM287 207h1v2h-1zM560 213h1v2h-1zM648 158h1v2h-1zM508 185h1v1h-1zM236 242h1v1h-1zM835 171h1v1h-1zM638 142h1v1h-1zM649 160h1v1h-1zM482 149h1v2h-1zM918 159h1v1h-1zM698 165h1v1h-1zM459 121h1v1h-1zM205 231h1v2h-1zM716 181h1v2h-1zM415 114h1v1h-1zM719 186h1v2h-1zM460 122h1v1h-1zM814 204h1v2h-1zM489 158h1v1h-1zM202 225h1v2h-1zM919 160h1v1h-1zM823 182h1v2h-1zM869 141h1v1h-1zM165 195h1v1h-1zM268 197h1v2h-1zM858 140h1v1h-1zM564 205h1v2h-1zM387 146h1v1h-1zM290 212h1v2h-1zM402 124h1v2h-1zM263 205h1v1h-1zM652 165h1v2h-1zM191 206h1v2h-1zM255 218h1v2h-1zM895 152h1v1h-1zM518 201h1v2h-1zM286 206h1v1h-1zM240 239h1v1h-1zM645 152h1v2h-1zM64 277h1v2h-1zM406 118h1v1h-1zM328 217h1v1h-1zM247 229h1v1h-1zM572 186h1v2h-1zM398 131h1v2h-1zM452 112h1v1h-1zM481 147h1v2h-1zM795 204h1v1h-1zM641 146h1v1h-1zM251 226h1v1h-1zM474 136h1v1h-1zM358 189h1v2h-1zM715 180h1v1h-1zM370 164h1v1h-1zM394 138h1v2h-1zM510 188h1v2h-1zM826 178h1v1h-1zM521 207h1v1h-1zM289 210h1v2h-1zM587 151h1v2h-1zM651 163h1v2h-1zM354 197h1v1h-1zM522 208h1v1h-1zM644 150h1v2h-1zM243 234h1v1h-1zM362 181h1v2h-1zM409 114h1v1h-1zM842 163h1v1h-1zM708 172h1v1h-1zM845 159h1v1h-1zM92 186h1v2h-1zM529 215h1v1h-1zM462 124h1v2h-1zM342 209h1v1h-1zM837 169h1v1h-1zM463 126h1v1h-1zM201 223h1v2h-1zM96 179h1v2h-1zM190 205h1v1h-1zM830 175h1v1h-1zM517 200h1v1h-1zM559 215h1v1h-1zM66 272h1v2h-1zM647 156h1v2h-1zM451 111h1v1h-1zM813 206h1v2h-1zM794 203h1v1h-1zM357 191h1v2h-1zM484 153h1v1h-1zM416 115h1v2h-1zM160 190h1v1h-1zM254 220h1v2h-1zM480 145h1v2h-1zM718 184h1v2h-1zM141 182h1v1h-1zM477 140h1v1h-1zM461 123h1v1h-1zM91 188h1v3h-1zM82 219h1v3h-1zM722 191h1v1h-1zM921 162h1v1h-1zM491 160h1v1h-1zM262 206h1v1h-1zM523 209h1v2h-1zM292 216h1v1h-1zM197 215h1v2h-1zM524 211h1v1h-1zM288 209h1v1h-1zM211 244h1v2h-1zM100 176h1v1h-1zM277 199h1v1h-1zM246 230h1v1h-1zM639 143h1v1h-1zM618 120h1v1h-1zM212 246h1v1h-1zM848 154h1v2h-1zM389 144h1v1h-1zM920 161h1v1h-1zM137 179h1v1h-1zM586 153h1v2h-1zM95 181h1v2h-1zM476 139h1v1h-1zM369 165h1v1h-1zM200 221h1v2h-1zM265 202h1v1h-1zM376 154h1v2h-1zM361 183h1v2h-1zM53 304h1v3h-1zM617 118h1v2h-1zM193 209h1v1h-1zM752 200h1v1h-1zM210 242h1v2h-1zM643 148h1v2h-1zM736 200h1v1h-1zM479 143h1v2h-1zM341 210h1v1h-1zM836 170h1v1h-1zM454 114h1v1h-1zM199 219h1v2h-1zM356 193h1v2h-1zM192 208h1v1h-1zM465 128h1v1h-1zM808 211h1v1h-1zM276 198h1v1h-1zM616 117h1v1h-1zM847 156h1v2h-1zM233 245h1v1h-1zM812 208h1v1h-1zM408 115h1v1h-1zM762 198h1v1h-1zM763 199h1v1h-1zM412 112h1v1h-1zM453 113h1v1h-1zM839 167h1v1h-1zM344 206h1v1h-1zM796 205h1v1h-1zM642 147h1v1h-1zM851 150h1v1h-1zM372 161h1v1h-1zM486 155h1v1h-1zM530 216h1v1h-1zM867 139h1v1h-1zM248 228h1v1h-1zM464 127h1v1h-1zM501 176h1v1h-1zM732 197h1v1h-1zM391 142h1v1h-1zM624 129h1v1h-1zM441 111h1v1h-1z" fill="#ff0000" shape-rendering="crispEdges"/>
<path d="M409 136h2v1h-2zM628 136h4v1h-4zM647 136h2v1h-2zM295 207h3v1h-3zM306 207h2v1h-2zM793 207h2v1h-2zM803 207h2v1h-2zM452 120h10v1h-10zM411 135h2v1h-2zM632 135h2v1h-2zM645 135h2v1h-2zM138 183h3v1h-3zM145 183h11v1h-11zM726 183h2v1h-2zM826 183h8v1h-8zM197 215h2v1h-2zM326 215h2v1h-2zM179 188h2v1h-2zM737 188h4v1h-4zM741 189h4v1h-4zM753 189h5v1h-5zM447 117h2v1h-2zM136 182h2v1h-2zM156 182h2v1h-2zM162 182h10v1h-10zM426 122h2v1h-2zM467 122h3v1h-3zM218 229h5v1h-5zM248 229h5v1h-5zM255 231h2v1h-2zM260 231h4v1h-4zM685 164h2v1h-2zM915 154h7v1h-7zM413 134h2v1h-2zM634 134h11v1h-11zM747 191h2v1h-2zM750 191h2v1h-2zM570 198h2v1h-2zM659 143h3v1h-3zM887 143h5v1h-5zM334 211h9v1h-9zM546 211h2v1h-2zM558 211h2v1h-2zM910 157h2v1h-2zM26 351h10v1h-10zM621 139h2v1h-2zM288 212h2v1h-2zM331 212h3v1h-3zM548 212h3v1h-3zM556 212h2v1h-2zM211 227h2v1h-2zM226 227h3v1h-3zM244 227h2v1h-2zM438 115h6v1h-6zM134 181h2v1h-2zM158 181h4v1h-4zM723 181h2v1h-2zM873 153h2v1h-2zM320 217h3v1h-3zM776 203h2v1h-2zM913 155h2v1h-2zM770 200h2v1h-2zM15 344h2v1h-2zM618 141h2v1h-2zM653 141h2v1h-2zM232 225h4v1h-4zM239 225h2v1h-2zM271 225h2v1h-2zM308 208h2v1h-2zM351 208h3v1h-3zM540 208h2v1h-2zM795 208h8v1h-8zM778 204h4v1h-4zM694 167h5v1h-5zM285 214h2v1h-2zM315 214h2v1h-2zM745 190h2v1h-2zM772 201h2v1h-2zM703 169h9v1h-9zM731 185h2v1h-2zM822 185h2v1h-2zM836 185h6v1h-6zM229 226h3v1h-3zM241 226h3v1h-3zM699 168h4v1h-4zM141 184h4v1h-4zM173 184h2v1h-2zM728 184h3v1h-3zM824 184h2v1h-2zM834 184h2v1h-2zM662 144h2v1h-2zM884 144h3v1h-3zM892 144h2v1h-2zM782 205h6v1h-6zM298 206h8v1h-8zM788 206h5v1h-5zM474 125h2v1h-2zM13 343h2v1h-2zM490 145h2v1h-2zM612 145h2v1h-2zM882 145h2v1h-2zM435 116h3v1h-3zM444 116h3v1h-3zM428 121h2v1h-2zM462 121h5v1h-5zM8 340h2v1h-2zM343 210h3v1h-3zM544 210h2v1h-2zM132 180h2v1h-2zM124 178h4v1h-4zM257 232h3v1h-3zM670 152h2v1h-2zM292 209h2v1h-2zM346 209h5v1h-5zM542 209h2v1h-2zM768 199h2v1h-2zM177 187h2v1h-2zM366 187h2v1h-2zM735 187h2v1h-2zM318 216h2v1h-2zM323 216h3v1h-3zM21 349h2v1h-2zM681 162h2v1h-2zM863 162h2v1h-2zM616 142h2v1h-2zM655 142h4v1h-4zM213 228h5v1h-5zM223 228h3v1h-3zM246 228h2v1h-2zM267 228h2v1h-2zM387 166h2v1h-2zM689 166h5v1h-5zM625 137h3v1h-3zM277 221h2v1h-2zM880 146h2v1h-2zM573 196h2v1h-2zM764 196h2v1h-2zM23 350h3v1h-3zM36 350h2v1h-2zM432 118h2v1h-2zM733 186h2v1h-2zM623 138h2v1h-2zM774 202h2v1h-2zM329 213h2v1h-2zM551 213h5v1h-5zM905 158h5v1h-5zM207 224h2v1h-2zM236 224h3v1h-3zM273 224h2v1h-2zM389 165h2v1h-2zM687 165h2v1h-2zM121 179h3v1h-3zM128 179h4v1h-4zM380 172h2v1h-2zM253 230h2v1h-2zM264 230h2v1h-2zM6 339h2v1h-2zM679 161h2v1h-2zM865 161h2v1h-2zM450 119h2v1h-2zM10 341h2v1h-2zM683 163h2v1h-2zM421 126h2v1h-2zM470 123h2v1h-2zM472 124h2v1h-2zM76 277h1v2h-1zM185 194h1v1h-1zM92 241h1v3h-1zM483 134h1v2h-1zM512 170h1v2h-1zM104 214h1v3h-1zM819 188h1v2h-1zM71 285h1v2h-1zM850 175h1v1h-1zM399 150h1v2h-1zM588 175h1v2h-1zM434 117h1v1h-1zM317 215h1v1h-1zM391 163h1v2h-1zM603 154h1v1h-1zM87 254h1v3h-1zM96 233h1v2h-1zM896 147h1v1h-1zM530 197h1v1h-1zM527 191h1v2h-1zM869 157h1v2h-1zM406 139h1v1h-1zM595 164h1v2h-1zM501 157h1v1h-1zM195 211h1v2h-1zM575 195h1v1h-1zM398 152h1v2h-1zM290 211h1v1h-1zM59 306h1v2h-1zM188 199h1v2h-1zM359 198h1v2h-1zM47 331h1v3h-1zM537 204h1v2h-1zM294 208h1v1h-1zM675 156h1v1h-1zM120 180h1v2h-1zM17 345h1v1h-1zM486 139h1v2h-1zM184 193h1v1h-1zM758 190h1v1h-1zM591 171h1v1h-1zM676 157h1v2h-1zM508 164h1v1h-1zM202 219h1v1h-1zM511 168h1v2h-1zM88 252h1v2h-1zM583 184h1v2h-1zM363 190h1v2h-1zM100 224h1v3h-1zM12 342h1v1h-1zM857 168h1v1h-1zM522 184h1v2h-1zM355 205h1v1h-1zM525 188h1v2h-1zM82 266h1v2h-1zM91 244h1v2h-1zM116 187h1v2h-1zM103 217h1v2h-1zM526 190h1v1h-1zM402 144h1v2h-1zM5 338h1v1h-1zM417 130h1v1h-1zM54 316h1v2h-1zM385 168h1v1h-1zM194 209h1v2h-1zM842 184h1v1h-1zM899 151h1v1h-1zM845 180h1v1h-1zM312 211h1v1h-1zM112 194h1v2h-1zM187 197h1v2h-1zM70 287h1v2h-1zM378 174h1v1h-1zM43 341h1v2h-1zM587 177h1v1h-1zM482 132h1v2h-1zM46 334h1v3h-1zM201 218h1v1h-1zM191 204h1v1h-1zM38 348h1v2h-1zM358 200h1v2h-1zM810 199h1v2h-1zM95 235h1v2h-1zM515 174h1v2h-1zM370 184h1v1h-1zM716 174h1v1h-1zM74 280h1v2h-1zM111 196h1v3h-1zM594 166h1v2h-1zM492 146h1v1h-1zM529 195h1v2h-1zM560 210h1v1h-1zM328 214h1v1h-1zM563 206h1v1h-1zM394 159h1v1h-1zM848 177h1v1h-1zM610 147h1v1h-1zM51 322h1v2h-1zM4 337h1v1h-1zM493 147h1v1h-1zM281 218h1v1h-1zM652 140h1v1h-1zM818 190h1v1h-1zM598 159h1v1h-1zM821 186h1v1h-1zM190 202h1v2h-1zM590 172h1v2h-1zM579 191h1v1h-1zM183 191h1v2h-1zM582 186h1v2h-1zM362 192h1v2h-1zM382 171h1v1h-1zM86 257h1v2h-1zM678 160h1v1h-1zM373 180h1v1h-1zM481 131h1v1h-1zM90 246h1v3h-1zM868 159h1v1h-1zM871 155h1v1h-1zM485 138h1v1h-1zM102 219h1v3h-1zM577 193h1v1h-1zM566 202h1v2h-1zM58 308h1v2h-1zM61 303h1v2h-1zM416 131h1v2h-1zM85 259h1v3h-1zM528 193h1v2h-1zM614 144h1v1h-1zM119 182h1v2h-1zM898 149h1v2h-1zM397 154h1v2h-1zM89 249h1v3h-1zM266 229h1v1h-1zM101 222h1v2h-1zM722 180h1v1h-1zM532 199h1v1h-1zM502 158h1v1h-1zM45 337h1v2h-1zM186 195h1v2h-1zM57 310h1v2h-1zM484 136h1v2h-1zM354 206h1v2h-1zM189 201h1v1h-1zM503 159h1v1h-1zM852 173h1v1h-1zM94 237h1v2h-1zM209 225h1v1h-1zM81 268h1v2h-1zM539 207h1v1h-1zM677 159h1v1h-1zM480 130h1v1h-1zM73 282h1v1h-1zM488 142h1v2h-1zM18 346h1v1h-1zM875 152h1v1h-1zM510 166h1v2h-1zM878 148h1v2h-1zM41 344h1v2h-1zM513 172h1v1h-1zM53 318h1v2h-1zM419 128h1v1h-1zM749 192h1v1h-1zM408 137h1v1h-1zM77 275h1v2h-1zM514 173h1v1h-1zM423 125h1v1h-1zM69 289h1v2h-1zM495 150h1v1h-1zM377 175h1v2h-1zM586 178h1v2h-1zM897 148h1v1h-1zM593 168h1v2h-1zM196 213h1v2h-1zM605 152h1v1h-1zM193 207h1v2h-1zM110 199h1v2h-1zM859 166h1v1h-1zM68 291h1v2h-1zM562 207h1v2h-1zM620 140h1v1h-1zM565 204h1v1h-1zM365 188h1v1h-1zM314 213h1v1h-1zM487 141h1v1h-1zM203 220h1v1h-1zM509 165h1v1h-1zM760 192h1v1h-1zM666 147h1v2h-1zM113 192h1v2h-1zM175 185h1v1h-1zM847 178h1v1h-1zM531 198h1v1h-1zM204 221h1v1h-1zM64 299h1v2h-1zM44 339h1v2h-1zM361 194h1v2h-1zM56 312h1v2h-1zM597 160h1v2h-1zM494 148h1v2h-1zM431 119h1v1h-1zM80 270h1v2h-1zM117 185h1v2h-1zM192 205h1v2h-1zM403 142h1v2h-1zM449 118h1v1h-1zM372 181h1v2h-1zM40 346h1v1h-1zM52 320h1v2h-1zM812 197h1v1h-1zM759 191h1v1h-1zM396 156h1v2h-1zM867 160h1v1h-1zM807 203h1v1h-1zM516 176h1v1h-1zM600 157h1v1h-1zM717 175h1v1h-1zM665 146h1v1h-1zM854 171h1v1h-1zM93 239h1v2h-1zM109 201h1v3h-1zM820 187h1v1h-1zM581 188h1v2h-1zM718 176h1v1h-1zM72 283h1v2h-1zM384 169h1v1h-1zM498 154h1v1h-1zM900 152h1v1h-1zM375 178h1v1h-1zM313 212h1v1h-1zM815 193h1v1h-1zM901 153h1v1h-1zM568 200h1v1h-1zM476 126h1v1h-1zM870 156h1v1h-1zM210 226h1v1h-1zM108 204h1v3h-1zM283 216h1v1h-1zM84 262h1v2h-1zM60 305h1v1h-1zM415 133h1v1h-1zM287 213h1v1h-1zM276 222h1v1h-1zM407 138h1v1h-1zM596 162h1v2h-1zM291 210h1v1h-1zM607 150h1v1h-1zM497 152h1v2h-1zM766 197h1v1h-1zM592 170h1v1h-1zM99 227h1v2h-1zM877 150h1v1h-1zM604 153h1v1h-1zM572 197h1v1h-1zM672 153h1v1h-1zM504 160h1v1h-1zM79 272h1v2h-1zM55 314h1v2h-1zM576 194h1v1h-1zM199 216h1v1h-1zM505 161h1v1h-1zM664 145h1v1h-1zM63 301h1v1h-1zM861 164h1v1h-1zM519 179h1v2h-1zM649 137h1v1h-1zM67 293h1v2h-1zM206 223h1v1h-1zM270 226h1v1h-1zM533 200h1v1h-1zM858 167h1v1h-1zM650 138h1v1h-1zM534 201h1v1h-1zM83 264h1v2h-1zM849 176h1v1h-1zM611 146h1v1h-1zM903 155h1v2h-1zM425 123h1v1h-1zM75 279h1v1h-1zM19 347h1v1h-1zM489 144h1v1h-1zM418 129h1v1h-1zM20 348h1v1h-1zM712 170h1v1h-1zM386 167h1v1h-1zM115 189h1v1h-1zM761 193h1v1h-1zM713 171h1v1h-1zM599 158h1v1h-1zM496 151h1v1h-1zM405 140h1v1h-1zM667 149h1v1h-1zM107 207h1v2h-1zM205 222h1v1h-1zM719 177h1v1h-1zM814 194h1v2h-1zM374 179h1v1h-1zM39 347h1v1h-1zM811 198h1v1h-1zM720 178h1v1h-1zM806 204h1v2h-1zM357 202h1v1h-1zM809 201h1v1h-1zM401 146h1v2h-1zM106 209h1v3h-1zM282 217h1v1h-1zM369 185h1v1h-1zM602 155h1v1h-1zM393 160h1v2h-1zM50 324h1v2h-1zM172 183h1v1h-1zM478 128h1v1h-1zM853 172h1v1h-1zM98 229h1v2h-1zM66 295h1v2h-1zM176 186h1v1h-1zM817 191h1v1h-1zM49 326h1v3h-1zM872 154h1v1h-1zM518 178h1v1h-1zM578 192h1v1h-1zM567 201h1v1h-1zM895 146h1v1h-1zM499 155h1v1h-1zM876 151h1v1h-1zM477 127h1v1h-1zM42 343h1v1h-1zM500 156h1v1h-1zM856 169h1v1h-1zM78 274h1v1h-1zM902 154h1v1h-1zM609 148h1v1h-1zM674 155h1v1h-1zM506 162h1v1h-1zM118 184h1v1h-1zM517 177h1v1h-1zM507 163h1v1h-1zM520 181h1v2h-1zM844 181h1v1h-1zM606 151h1v1h-1zM521 183h1v1h-1zM269 227h1v1h-1zM879 147h1v1h-1zM400 148h1v2h-1zM589 174h1v1h-1zM420 127h1v1h-1zM114 190h1v2h-1zM767 198h1v1h-1zM673 154h1v1h-1zM424 124h1v1h-1zM360 196h1v2h-1zM536 203h1v1h-1zM62 302h1v1h-1zM97 231h1v2h-1zM585 180h1v2h-1zM280 219h1v1h-1zM860 165h1v1h-1zM404 141h1v1h-1zM894 145h1v1h-1zM356 203h1v2h-1zM851 174h1v1h-1zM715 173h1v1h-1zM561 209h1v1h-1zM310 209h1v1h-1zM364 189h1v1h-1zM651 139h1v1h-1zM65 297h1v2h-1zM805 206h1v1h-1zM311 210h1v1h-1zM535 202h1v1h-1zM904 157h1v1h-1zM601 156h1v1h-1zM725 182h1v1h-1zM200 217h1v1h-1zM48 329h1v2h-1zM182 190h1v1h-1zM843 182h1v2h-1zM569 199h1v1h-1zM762 194h1v1h-1zM376 177h1v1h-1zM2 335h1v1h-1zM813 196h1v1h-1zM523 186h1v1h-1zM763 195h1v1h-1zM669 151h1v1h-1zM912 156h1v1h-1zM3 336h1v1h-1zM105 212h1v2h-1zM284 215h1v1h-1zM371 183h1v1h-1zM524 187h1v1h-1zM808 202h1v1h-1zM615 143h1v1h-1zM181 189h1v1h-1zM392 162h1v1h-1zM395 158h1v1h-1zM584 182h1v2h-1zM855 170h1v1h-1zM846 179h1v1h-1zM608 149h1v1h-1zM752 190h1v1h-1zM379 173h1v1h-1zM714 172h1v1h-1zM816 192h1v1h-1zM580 190h1v1h-1zM383 170h1v1h-1zM668 150h1v1h-1zM430 120h1v1h-1zM564 205h1v1h-1zM721 179h1v1h-1zM368 186h1v1h-1zM862 163h1v1h-1zM275 223h1v1h-1zM538 206h1v1h-1zM479 129h1v1h-1zM279 220h1v1h-1z" fill="#0000ff" shape-rendering="crispEdges"/>
</g>
<g shape-rendering="crispEdges">
<rect x="1" y="98" width="1163" height="2" fill="#ff0000"/>
<rect x="1" y="176" width="1163" height="2" fill="#00ff00"/>
<rect x="1" y="255" width="1163" height="2" fill="#0000ff"/>
<rect x="1" y="333" width="1163" height="2" fill="#0000ff"/>
<rect x="0" y="174" width="6" height="6" fill="#00ff00"/>
<rect x="2" y="176" width="2" height="2" fill="#fff"/>
<rect x="1157" y="174" width="6" height="6" fill="#00ff00"/>
<rect x="1159" y="176" width="2" height="2" fill="#fff"/>
<rect x="0" y="253" width="6" height="6" fill="#0000ff"/>
<rect x="2" y="255" width="2" height="2" fill="#fff"/>
<rect x="1157" y="253" width="6" height="6" fill="#0000ff"/>
<rect x="1159" y="255" width="2" height="2" fill="#fff"/>
<rect x="0" y="331" width="6" height="6" fill="#0000ff"/>
<rect x="2" y="333" width="2" height="2" fill="#fff"/>
<rect x="1157" y="331" width="6" height="6" fill="#0000ff"/>
<rect x="1159" y="333" width="2" height="2" fill="#fff"/>
</g>
<g>
<g shape-rendering="crispEdges">
<rect x="1" y="293" width="1" height="57" fill="#32cd32"/>
<rect x="1" y="308" width="2" height="34" fill="#32cd32"/>
<rect x="5" y="340" width="1" height="2" fill="#ff0000"/>
<rect x="4" y="340" width="3" height="2" fill="#ff0000"/>
<rect x="9" y="327" width="1" height="35" fill="#32cd32"/>
<rect x="8" y="340" width="3" height="14" fill="#32cd32"/>
<rect x="13" y="343" width="1" height="31" fill="#32cd32"/>
<rect x="12" y="352" width="3" height="8" fill="#32cd32"/>
<rect x="17" y="357" width="1" height="37" fill="#32cd32"/>
<rect x="16" y="359" width="3" height="9" fill="#32cd32"/>
<rect x="21" y="342" width="1" height="41" fill="#32cd32"/>
<rect x="20" y="367" width="3" height="11" fill="#32cd32"/>
<rect x="25" y="333" width="1" height="55" fill="#ff0000"/>
<rect x="24" y="344" width="3" height="35" fill="#ff0000"/>
<rect x="25" y="345" width="1" height="33" fill="#ff4500"/>
<rect x="29" y="349" width="1" height="4" fill="#32cd32"/>
<rect x="28" y="349" width="3" height="4" fill="#32cd32"/>
<rect x="33" y="333" width="1" height="20" fill="#ff0000"/>
<rect x="32" y="340" width="3" height="11" fill="#ff0000"/>
<rect x="33" y="341" width="1" height="9" fill="#ff4500"/>
<rect x="37" y="329" width="1" height="34" fill="#32cd32"/>
<rect x="36" y="340" width="3" height="7" fill="#32cd32"/>
<rect x="41" y="264" width="1" height="90" fill="#ff0000"/>
<rect x="40" y="267" width="3" height="80" fill="#ff0000"/>
<rect x="41" y="268" width="1" height="78" fill="#ff4500"/>
<rect x="45" y="188" width="1" height="89" fill="#ff0000"/>
<rect x="44" y="196" width="3" height="72" fill="#ff0000"/>
<rect x="45" y="197" width="1" height="70" fill="#ff4500"/>
<rect x="49" y="154" width="1" height="50" fill="#ff0000"/>
<rect x="48" y="164" width="3" height="34" fill="#ff0000"/>
<rect x="49" y="165" width="1" height="32" fill="#ff4500"/>
<rect x="53" y="158" width="1" height="5" fill="#ff0000"/>
<rect x="52" y="159" width="3" height="3" fill="#ff0000"/>
<rect x="53" y="160" width="1" height="1" fill="#ff4500"/>
<rect x="57" y="150" width="1" height="49" fill="#32cd32"/>
<rect x="56" y="159" width="3" height="31" fill="#32cd32"/>
<rect x="61" y="168" width="1" height="33" fill="#ff0000"/>
<rect x="60" y="189" width="3" height="1" fill="#ff0000"/>
<rect x="65" y="179" width="1" height="36" fill="#32cd32"/>
<rect x="64" y="189" width="3" height="4" fill="#32cd32"/>
<rect x="69" y="179" width="1" height="21" fill="#32cd32"/>
<rect x="68" y="192" width="3" height="2" fill="#32cd32"/>
<rect x="73" y="192" width="1" height="32" fill="#32cd32"/>
<rect x="72" y="193" width="3" height="3" fill="#32cd32"/>
<rect x="77" y="201" width="1" height="4" fill="#32cd32"/>
<rect x="76" y="203" width="3" height="2" fill="#32cd32"/>
<rect x="81" y="167" width="1" height="38" fill="#ff0000"/>
<rect x="80" y="181" width="3" height="24" fill="#ff0000"/>
<rect x="81" y="182" width="1" height="22" fill="#ff4500"/>
<rect x="85" y="153" width="1" height="35" fill="#ff0000"/>
<rect x="84" y="171" width="3" height="11" fill="#ff0000"/>
<rect x="85" y="172" width="1" height="9" fill="#ff4500"/>
<rect x="89" y="130" width="1" height="45" fill="#ff0000"/>
<rect x="88" y="138" width="3" height="34" fill="#ff0000"/>
<rect x="89" y="139" width="1" height="32" fill="#ff4500"/>
<rect x="93" y="122" width="1" height="29" fill="#ff0000"/>
<rect x="92" y="132" width="3" height="7" fill="#ff0000"/>
<rect x="93" y="133" width="1" height="5" fill="#ff4500"/>
<rect x="97" y="120" width="1" height="59" fill="#32cd32"/>
<rect x="96" y="132" width="3" height="43" fill="#32cd32"/>
<rect x="101" y="164" width="1" height="5" fill="#ff0000"/>
<rect x="100" y="165" width="3" height="2" fill="#ff0000"/>
<rect x="105" y="153" width="1" height="22" fill="#ff0000"/>
<rect x="104" y="161" width="3" height="4" fill="#ff0000"/>
<rect x="105" y="162" width="1" height="2" fill="#ff4500"/>
<rect x="109" y="138" width="1" height="46" fill="#ff0000"/>
<rect x="108" y="141" width="3" height="20" fill="#ff0000"/>
<rect x="109" y="142" width="1" height="18" fill="#ff4500"/>
<rect x="113" y="125" width="1" height="37" fill="#ff0000"/>
<rect x="112" y="134" width="3" height="8" fill="#ff0000"/>
<rect x="113" y="135" width="1" height="6" fill="#ff4500"/>
<rect x="117" y="131" width="1" height="101" fill="#32cd32"/>
<rect x="116" y="134" width="3" height="86" fill="#32cd32"/>
<rect x="121" y="198" width="1" height="29" fill="#32cd32"/>
<rect x="120" y="219" width="3" height="6" fill="#32cd32"/>
<rect x="125" y="223" width="1" height="4" fill="#32cd32"/>
<rect x="124" y="223" width="3" height="3" fill="#32cd32"/>
<rect x="129" y="201" width="1" height="32" fill="#ff0000"/>
<rect x="128" y="217" width="3" height="9" fill="#ff0000"/>
<rect x="129" y="218" width="1" height="7" fill="#ff4500"/>
<rect x="133" y="178" width="1" height="46" fill="#ff0000"/>
<rect x="132" y="187" width="3" height="31" fill="#ff0000"/>
<rect x="133" y="188" width="1" height="29" fill="#ff4500"/>
<rect x="137" y="179" width="1" height="48" fill="#32cd32"/>
<rect x="136" y="187" width="3" height="33" fill="#32cd32"/>
<rect x="141" y="184" width="1" height="60" fill="#ff0000"/>
<rect x="140" y="195" width="3" height="25" fill="#ff0000"/>
<rect x="141" y="196" width="1" height="23" fill="#ff4500"/>
<rect x="145" y="176" width="1" height="24" fill="#ff0000"/>
<rect x="144" y="181" width="3" height="15" fill="#ff0000"/>
<rect x="145" y="182" width="1" height="13" fill="#ff4500"/>
<rect x="149" y="185" width="1" height="5" fill="#32cd32"/>
<rect x="148" y="185" width="3" height="5" fill="#32cd32"/>
<rect x="153" y="162" width="1" height="46" fill="#ff0000"/>
<rect x="152" y="189" width="3" height="2" fill="#ff0000"/>
<rect x="157" y="153" width="1" height="48" fill="#ff0000"/>
<rect x="156" y="169" width="3" height="20" fill="#ff0000"/>
<rect x="157" y="170" width="1" height="18" fill="#ff4500"/>
<rect x="161" y="154" width="1" height="49" fill="#32cd32"/>
<rect x="160" y="169" width="3" height="28" fill="#32cd32"/>
<rect x="165" y="177" width="1" height="38" fill="#ff0000"/>
<rect x="164" y="185" width="3" height="12" fill="#ff0000"/>
<rect x="165" y="186" width="1" height="10" fill="#ff4500"/>
<rect x="169" y="161" width="1" height="29" fill="#ff0000"/>
<rect x="168" y="177" width="3" height="9" fill="#ff0000"/>
<rect x="169" y="178" width="1" height="7" fill="#ff4500"/>
<rect x="173" y="181" width="1" height="2" fill="#ff0000"/>
<rect x="172" y="182" width="3" height="1" fill="#ff0000"/>
<rect x="177" y="178" width="1" height="42" fill="#32cd32"/>
<rect x="176" y="182" width="3" height="32" fill="#32cd32"/>
<rect x="181" y="189" width="1" height="46" fill="#32cd32"/>
<rect x="180" y="213" width="3" height="10" fill="#32cd32"/>
<rect x="185" y="204" width="1" height="56" fill="#32cd32"/>
<rect x="184" y="222" width="3" height="37" fill="#32cd32"/>
<rect x="189" y="256" width="1" height="38" fill="#32cd32"/>
<rect x="188" y="258" width="3" height="33" fill="#32cd32"/>
<rect x="193" y="276" width="1" height="29" fill="#ff0000"/>
<rect x="192" y="285" width="3" height="6" fill="#ff0000"/>
<rect x="193" y="286" width="1" height="4" fill="#ff4500"/>
<rect x="197" y="287" width="1" height="4" fill="#ff0000"/>
<rect x="196" y="288" width="3" height="3" fill="#ff0000"/>
<rect x="197" y="289" width="1" height="1" fill="#ff4500"/>
<rect x="201" y="282" width="1" height="25" fill="#32cd32"/>
<rect x="200" y="288" width="3" height="7" fill="#32cd32"/>
<rect x="205" y="290" width="1" height="28" fill="#32cd32"/>
<rect x="204" y="293" width="3" height="13" fill="#32cd32"/>
<rect x="209" y="275" width="1" height="46" fill="#ff0000"/>
<rect x="208" y="283" width="3" height="23" fill="#ff0000"/>
<rect x="209" y="284" width="1" height="21" fill="#ff4500"/>
<rect x="213" y="274" width="1" height="22" fill="#ff0000"/>
<rect x="212" y="282" width="3" height="2" fill="#ff0000"/>
<rect x="217" y="213" width="1" height="71" fill="#ff0000"/>
<rect x="216" y="216" width="3" height="67" fill="#ff0000"/>
<rect x="217" y="217" width="1" height="65" fill="#ff4500"/>
<rect x="221" y="207" width="1" height="7" fill="#32cd32"/>
<rect x="220" y="210" width="3" height="3" fill="#32cd32"/>
<rect x="225" y="171" width="1" height="51" fill="#ff0000"/>
<rect x="224" y="171" width="3" height="42" fill="#ff0000"/>
<rect x="225" y="172" width="1" height="40" fill="#ff4500"/>
<rect x="229" y="152" width="1" height="31" fill="#ff0000"/>
<rect x="228" y="155" width="3" height="17" fill="#ff0000"/>
<rect x="229" y="156" width="1" height="15" fill="#ff4500"/>
<rect x="233" y="145" width="1" height="33" fill="#32cd32"/>
<rect x="232" y="155" width="3" height="12" fill="#32cd32"/>
<rect x="237" y="147" width="1" height="23" fill="#ff0000"/>
<rect x="236" y="154" width="3" height="12" fill="#ff0000"/>
<rect x="237" y="155" width="1" height="10" fill="#ff4500"/>
<rect x="241" y="148" width="1" height="70" fill="#32cd32"/>
<rect x="240" y="154" width="3" height="63" fill="#32cd32"/>
<rect x="245" y="213" width="1" height="3" fill="#32cd32"/>
<rect x="244" y="213" width="3" height="2" fill="#32cd32"/>
<rect x="249" y="207" width="1" height="43" fill="#32cd32"/>
<rect x="248" y="214" width="3" height="23" fill="#32cd32"/>
<rect x="253" y="215" width="1" height="43" fill="#ff0000"/>
<rect x="252" y="218" width="3" height="19" fill="#ff0000"/>
<rect x="253" y="219" width="1" height="17" fill="#ff4500"/>
<rect x="257" y="181" width="1" height="55" fill="#ff0000"/>
<rect x="256" y="197" width="3" height="22" fill="#ff0000"/>
<rect x="257" y="198" width="1" height="20" fill="#ff4500"/>
<rect x="261" y="173" width="1" height="49" fill="#ff0000"/>
<rect x="260" y="187" width="3" height="11" fill="#ff0000"/>
<rect x="261" y="188" width="1" height="9" fill="#ff4500"/>
<rect x="265" y="187" width="1" height="24" fill="#32cd32"/>
<rect x="264" y="187" width="3" height="11" fill="#32cd32"/>
<rect x="269" y="197" width="1" height="4" fill="#32cd32"/>
<rect x="268" y="197" width="3" height="4" fill="#32cd32"/>
<rect x="273" y="195" width="1" height="46" fill="#32cd32"/>
<rect x="272" y="200" width="3" height="39" fill="#32cd32"/>
<rect x="277" y="226" width="1" height="24" fill="#ff0000"/>
<rect x="276" y="231" width="3" height="8" fill="#ff0000"/>
<rect x="277" y="232" width="1" height="6" fill="#ff4500"/>
<rect x="281" y="211" width="1" height="27" fill="#ff0000"/>
<rect x="280" y="228" width="3" height="5" fill="#ff0000"/>
<rect x="281" y="229" width="1" height="3" fill="#ff4500"/>
<rect x="285" y="185" width="1" height="45" fill="#ff0000"/>
<rect x="284" y="194" width="3" height="34" fill="#ff0000"/>
<rect x="285" y="195" width="1" height="32" fill="#ff4500"/>
<rect x="289" y="179" width="1" height="74" fill="#32cd32"/>
<rect x="288" y="195" width="3" height="52" fill="#32cd32"/>
<rect x="293" y="245" width="1" height="3" fill="#ff0000"/>
<rect x="292" y="245" width="3" height="3" fill="#ff0000"/>
<rect x="293" y="246" width="1" height="1" fill="#ff4500"/>
<rect x="297" y="190" width="1" height="67" fill="#ff0000"/>
<rect x="296" y="200" width="3" height="47" fill="#ff0000"/>
<rect x="297" y="201" width="1" height="45" fill="#ff4500"/>
<rect x="301" y="199" width="1" height="47" fill="#32cd32"/>
<rect x="300" y="200" width="3" height="16" fill="#32cd32"/>
<rect x="305" y="187" width="1" height="40" fill="#ff0000"/>
<rect x="304" y="213" width="3" height="3" fill="#ff0000"/>
<rect x="305" y="214" width="1" height="1" fill="#ff4500"/>
<rect x="309" y="204" width="1" height="24" fill="#32cd32"/>
<rect x="308" y="213" width="3" height="9" fill="#32cd32"/>
<rect x="313" y="210" width="1" height="36" fill="#32cd32"/>
<rect x="312" y="221" width="3" height="11" fill="#32cd32"/>
<rect x="317" y="224" width="1" height="4" fill="#32cd32"/>
<rect x="316" y="225" width="3" height="2" fill="#32cd32"/>
<rect x="321" y="203" width="1" height="25" fill="#ff0000"/>
<rect x="320" y="218" width="3" height="10" fill="#ff0000"/>
<rect x="321" y="219" width="1" height="8" fill="#ff4500"/>
<rect x="325" y="179" width="1" height="53" fill="#ff0000"/>
<rect x="324" y="183" width="3" height="36" fill="#ff0000"/>
<rect x="325" y="184" width="1" height="34" fill="#ff4500"/>
<rect x="329" y="151" width="1" height="41" fill="#ff0000"/>
<rect x="328" y="164" width="3" height="19" fill="#ff0000"/>
<rect x="329" y="165" width="1" height="17" fill="#ff4500"/>
<rect x="333" y="160" width="1" height="51" fill="#32cd32"/>
<rect x="332" y="163" width="3" height="43" fill="#32cd32"/>
<rect x="337" y="191" width="1" height="28" fill="#ff0000"/>
<rect x="336" y="195" width="3" height="11" fill="#ff0000"/>
<rect x="337" y="196" width="1" height="9" fill="#ff4500"/>
<rect x="341" y="191" width="1" height="4" fill="#ff0000"/>
<rect x="340" y="192" width="3" height="3" fill="#ff0000"/>
<rect x="341" y="193" width="1" height="1" fill="#ff4500"/>
<rect x="345" y="146" width="1" height="48" fill="#ff0000"/>
<rect x="344" y="160" width="3" height="34" fill="#ff0000"/>
<rect x="345" y="161" width="1" height="32" fill="#ff4500"/>
<rect x="349" y="157" width="1" height="37" fill="#32cd32"/>
<rect x="348" y="160" width="3" height="19" fill="#32cd32"/>
<rect x="353" y="174" width="1" height="34" fill="#32cd32"/>
<rect x="352" y="177" width="3" height="4" fill="#32cd32"/>
<rect x="357" y="117" width="1" height="67" fill="#ff0000"/>
<rect x="356" y="121" width="3" height="60" fill="#ff0000"/>
<rect x="357" y="122" width="1" height="58" fill="#ff4500"/>
<rect x="361" y="81" width="1" height="52" fill="#ff0000"/>
<rect x="360" y="82" width="3" height="40" fill="#ff0000"/>
<rect x="361" y="83" width="1" height="38" fill="#ff4500"/>
<rect x="365" y="82" width="1" height="3" fill="#32cd32"/>
<rect x="364" y="83" width="3" height="2" fill="#32cd32"/>
<rect x="369" y="75" width="1" height="49" fill="#32cd32"/>
<rect x="368" y="84" width="3" height="35" fill="#32cd32"/>
<rect x="373" y="113" width="1" height="47" fill="#32cd32"/>
<rect x="372" y="118" width="3" height="34" fill="#32cd32"/>
<rect x="377" y="122" width="1" height="45" fill="#ff0000"/>
<rect x="376" y="128" width="3" height="24" fill="#ff0000"/>
<rect x="377" y="129" width="1" height="22" fill="#ff4500"/>
<rect x="381" y="121" width="1" height="45" fill="#32cd32"/>
<rect x="380" y="129" width="3" height="13" fill="#32cd32"/>
<rect x="385" y="131" width="1" height="31" fill="#ff0000"/>
<rect x="384" y="139" width="3" height="3" fill="#ff0000"/>
<rect x="385" y="140" width="1" height="1" fill="#ff4500"/>
<rect x="389" y="138" width="1" height="5" fill="#32cd32"/>
<rect x="388" y="140" width="3" height="3" fill="#32cd32"/>
<rect x="393" y="107" width="1" height="38" fill="#ff0000"/>
<rect x="392" y="134" width="3" height="10" fill="#ff0000"/>
<rect x="393" y="135" width="1" height="8" fill="#ff4500"/>
<rect x="397" y="99" width="1" height="36" fill="#ff0000"/>
<rect x="396" y="107" width="3" height="28" fill="#ff0000"/>
<rect x="397" y="108" width="1" height="26" fill="#ff4500"/>
<rect x="401" y="57" width="1" height="60" fill="#ff0000"/>
<rect x="400" y="66" width="3" height="42" fill="#ff0000"/>
<rect x="401" y="67" width="1" height="40" fill="#ff4500"/>
<rect x="405" y="47" width="1" height="47" fill="#32cd32"/>
<rect x="404" y="67" width="3" height="14" fill="#32cd32"/>
<rect x="409" y="71" width="1" height="44" fill="#32cd32"/>
<rect x="408" y="80" width="3" height="20" fill="#32cd32"/>
<rect x="413" y="101" width="1" height="5" fill="#32cd32"/>
<rect x="412" y="101" width="3" height="3" fill="#32cd32"/>
<rect x="417" y="92" width="1" height="63" fill="#32cd32"/>
<rect x="416" y="103" width="3" height="37" fill="#32cd32"/>
<rect x="421" y="110" width="1" height="33" fill="#ff0000"/>
<rect x="420" y="112" width="3" height="28" fill="#ff0000"/>
<rect x="421" y="113" width="1" height="26" fill="#ff4500"/>
<rect x="425" y="94" width="1" height="29" fill="#32cd32"/>
<rect x="424" y="112" width="3" height="6" fill="#32cd32"/>
<rect x="429" y="106" width="1" height="32" fill="#ff0000"/>
<rect x="428" y="111" width="3" height="6" fill="#ff0000"/>
<rect x="429" y="112" width="1" height="4" fill="#ff4500"/>
<rect x="433" y="96" width="1" height="37" fill="#32cd32"/>
<rect x="432" y="111" width="3" height="17" fill="#32cd32"/>
<rect x="437" y="117" width="1" height="6" fill="#ff0000"/>
<rect x="436" y="117" width="3" height="5" fill="#ff0000"/>
<rect x="437" y="118" width="1" height="3" fill="#ff4500"/>
<rect x="441" y="110" width="1" height="30" fill="#32cd32"/>
<rect x="440" y="117" width="3" height="3" fill="#32cd32"/>
<rect x="445" y="90" width="1" height="45" fill="#ff0000"/>
<rect x="444" y="95" width="3" height="25" fill="#ff0000"/>
<rect x="445" y="96" width="1" height="23" fill="#ff4500"/>
<rect x="449" y="94" width="1" height="59" fill="#32cd32"/>
<rect x="448" y="95" width="3" height="52" fill="#32cd32"/>
<rect x="453" y="144" width="1" height="40" fill="#ff0000"/>
<rect x="452" y="144" width="3" height="3" fill="#ff0000"/>
<rect x="453" y="145" width="1" height="1" fill="#ff4500"/>
<rect x="457" y="128" width="1" height="32" fill="#32cd32"/>
<rect x="456" y="144" width="3" height="14" fill="#32cd32"/>
<rect x="461" y="151" width="1" height="6" fill="#ff0000"/>
<rect x="460" y="151" width="3" height="4" fill="#ff0000"/>
<rect x="461" y="152" width="1" height="2" fill="#ff4500"/>
<rect x="465" y="121" width="1" height="40" fill="#000000"/>
<rect x="464" y="151" width="3" height="1" fill="#000000"/>
<rect x="469" y="151" width="1" height="40" fill="#32cd32"/>
<rect x="468" y="151" width="3" height="4" fill="#32cd32"/>
<rect x="473" y="138" width="1" height="52" fill="#32cd32"/>
<rect x="472" y="155" width="3" height="33" fill="#32cd32"/>
<rect x="477" y="174" width="1" height="28" fill="#32cd32"/>
<rect x="476" y="187" width="3" height="7" fill="#32cd32"/>
<rect x="481" y="190" width="1" height="28" fill="#32cd32"/>
<rect x="480" y="193" width="3" height="17" fill="#32cd32"/>
<rect x="485" y="203" width="1" height="7" fill="#ff0000"/>
<rect x="484" y="205" width="3" height="5" fill="#ff0000"/>
<rect x="485" y="206" width="1" height="3" fill="#ff4500"/>
<rect x="489" y="177" width="1" height="42" fill="#ff0000"/>
<rect x="488" y="179" width="3" height="27" fill="#ff0000"/>
<rect x="489" y="180" width="1" height="25" fill="#ff4500"/>
<rect x="493" y="158" width="1" height="32" fill="#32cd32"/>
<rect x="492" y="179" width="3" height="3" fill="#32cd32"/>
<rect x="497" y="176" width="1" height="31" fill="#32cd32"/>
<rect x="496" y="181" width="3" height="13" fill="#32cd32"/>
<rect x="501" y="183" width="1" height="65" fill="#32cd32"/>
<rect x="500" y="193" width="3" height="51" fill="#32cd32"/>
<rect x="505" y="197" width="1" height="59" fill="#ff0000"/>
<rect x="504" y="214" width="3" height="30" fill="#ff0000"/>
<rect x="505" y="215" width="1" height="28" fill="#ff4500"/>
<rect x="509" y="207" width="1" height="7" fill="#ff0000"/>
<rect x="508" y="208" width="3" height="5" fill="#ff0000"/>
<rect x="509" y="209" width="1" height="3" fill="#ff4500"/>
<rect x="513" y="201" width="1" height="66" fill="#32cd32"/>
<rect x="512" y="209" width="3" height="54" fill="#32cd32"/>
<rect x="517" y="217" width="1" height="48" fill="#ff0000"/>
<rect x="516" y="219" width="3" height="44" fill="#ff0000"/>
<rect x="517" y="220" width="1" height="42" fill="#ff4500"/>
<rect x="521" y="217" width="1" height="37" fill="#32cd32"/>
<rect x="520" y="219" width="3" height="28" fill="#32cd32"/>
<rect x="525" y="222" width="1" height="27" fill="#ff0000"/>
<rect x="524" y="236" width="3" height="12" fill="#ff0000"/>
<rect x="525" y="237" width="1" height="10" fill="#ff4500"/>
<rect x="529" y="198" width="1" height="50" fill="#32cd32"/>
<rect x="528" y="236" width="3" height="1" fill="#32cd32"/>
<rect x="533" y="238" width="1" height="6" fill="#32cd32"/>
<rect x="532" y="241" width="3" height="1" fill="#32cd32"/>
<rect x="537" y="212" width="1" height="30" fill="#ff0000"/>
<rect x="536" y="230" width="3" height="12" fill="#ff0000"/>
<rect x="537" y="231" width="1" height="10" fill="#ff4500"/>
<rect x="541" y="215" width="1" height="41" fill="#32cd32"/>
<rect x="540" y="230" width="3" height="20" fill="#32cd32"/>
<rect x="545" y="189" width="1" height="62" fill="#ff0000"/>
<rect x="544" y="194" width="3" height="56" fill="#ff0000"/>
<rect x="545" y="195" width="1" height="54" fill="#ff4500"/>
<rect x="549" y="159" width="1" height="37" fill="#ff0000"/>
<rect x="548" y="169" width="3" height="26" fill="#ff0000"/>
<rect x="549" y="170" width="1" height="24" fill="#ff4500"/>
<rect x="553" y="149" width="1" height="29" fill="#32cd32"/>
<rect x="552" y="169" width="3" height="4" fill="#32cd32"/>
<rect x="557" y="168" width="1" height="5" fill="#ff0000"/>
<rect x="556" y="170" width="3" height="1" fill="#ff0000"/>
<rect x="561" y="133" width="1" height="57" fill="#ff0000"/>
<rect x="560" y="137" width="3" height="34" fill="#ff0000"/>
<rect x="561" y="138" width="1" height="32" fill="#ff4500"/>
<rect x="565" y="91" width="1" height="59" fill="#ff0000"/>
<rect x="564" y="97" width="3" height="41" fill="#ff0000"/>
<rect x="565" y="98" width="1" height="39" fill="#ff4500"/>
<rect x="569" y="77" width="1" height="43" fill="#32cd32"/>
<rect x="568" y="97" width="3" height="15" fill="#32cd32"/>
<rect x="573" y="107" width="1" height="33" fill="#32cd32"/>
<rect x="572" y="111" width="3" height="23" fill="#32cd32"/>
<rect x="577" y="108" width="1" height="32" fill="#ff0000"/>
<rect x="576" y="112" width="3" height="22" fill="#ff0000"/>
<rect x="577" y="113" width="1" height="20" fill="#ff4500"/>
<rect x="581" y="104" width="1" height="9" fill="#ff0000"/>
<rect x="580" y="106" width="3" height="6" fill="#ff0000"/>
<rect x="581" y="107" width="1" height="4" fill="#ff4500"/>
<rect x="585" y="73" width="1" height="54" fill="#ff0000"/>
<rect x="584" y="80" width="3" height="27" fill="#ff0000"/>
<rect x="585" y="81" width="1" height="25" fill="#ff4500"/>
<rect x="589" y="66" width="1" height="33" fill="#ff0000"/>
<rect x="588" y="73" width="3" height="8" fill="#ff0000"/>
<rect x="589" y="74" width="1" height="6" fill="#ff4500"/>
<rect x="593" y="43" width="1" height="36" fill="#ff0000"/>
<rect x="592" y="68" width="3" height="6" fill="#ff0000"/>
<rect x="593" y="69" width="1" height="4" fill="#ff4500"/>
<rect x="597" y="52" width="1" height="30" fill="#ff0000"/>
<rect x="596" y="59" width="3" height="10" fill="#ff0000"/>
<rect x="597" y="60" width="1" height="8" fill="#ff4500"/>
<rect x="601" y="57" width="1" height="111" fill="#32cd32"/>
<rect x="600" y="58" width="3" height="109" fill="#32cd32"/>
<rect x="605" y="137" width="1" height="24" fill="#ff0000"/>
<rect x="604" y="144" width="3" height="13" fill="#ff0000"/>
<rect x="605" y="145" width="1" height="11" fill="#ff4500"/>
<rect x="609" y="122" width="1" height="37" fill="#32cd32"/>
<rect x="608" y="144" width="3" height="13" fill="#32cd32"/>
<rect x="613" y="127" width="1" height="86" fill="#32cd32"/>
<rect x="612" y="156" width="3" height="27" fill="#32cd32"/>
<rect x="617" y="165" width="1" height="39" fill="#ff0000"/>
<rect x="616" y="174" width="3" height="9" fill="#ff0000"/>
<rect x="617" y="175" width="1" height="7" fill="#ff4500"/>
<rect x="621" y="162" width="1" height="35" fill="#32cd32"/>
<rect x="620" y="174" width="3" height="7" fill="#32cd32"/>
<rect x="625" y="165" width="1" height="41" fill="#32cd32"/>
<rect x="624" y="180" width="3" height="18" fill="#32cd32"/>
<rect x="629" y="189" width="1" height="13" fill="#ff0000"/>
<rect x="628" y="190" width="3" height="12" fill="#ff0000"/>
<rect x="629" y="191" width="1" height="10" fill="#ff4500"/>
<rect x="633" y="125" width="1" height="66" fill="#ff0000"/>
<rect x="632" y="135" width="3" height="56" fill="#ff0000"/>
<rect x="633" y="136" width="1" height="54" fill="#ff4500"/>
<rect x="637" y="120" width="1" height="35" fill="#32cd32"/>
<rect x="636" y="135" width="3" height="9" fill="#32cd32"/>
<rect x="641" y="137" width="1" height="48" fill="#32cd32"/>
<rect x="640" y="143" width="3" height="35" fill="#32cd32"/>
<rect x="645" y="128" width="1" height="51" fill="#ff0000"/>
<rect x="644" y="149" width="3" height="29" fill="#ff0000"/>
<rect x="645" y="150" width="1" height="27" fill="#ff4500"/>
<rect x="649" y="137" width="1" height="43" fill="#32cd32"/>
<rect x="648" y="149" width="3" height="23" fill="#32cd32"/>
<rect x="653" y="167" width="1" height="11" fill="#ff0000"/>
<rect x="652" y="168" width="3" height="10" fill="#ff0000"/>
<rect x="653" y="169" width="1" height="8" fill="#ff4500"/>
<rect x="657" y="134" width="1" height="41" fill="#ff0000"/>
<rect x="656" y="160" width="3" height="9" fill="#ff0000"/>
<rect x="657" y="161" width="1" height="7" fill="#ff4500"/>
<rect x="661" y="143" width="1" height="46" fill="#ff0000"/>
<rect x="660" y="146" width="3" height="15" fill="#ff0000"/>
<rect x="661" y="147" width="1" height="13" fill="#ff4500"/>
<rect x="665" y="105" width="1" height="48" fill="#ff0000"/>
<rect x="664" y="144" width="3" height="3" fill="#ff0000"/>
<rect x="665" y="145" width="1" height="1" fill="#ff4500"/>
<rect x="669" y="134" width="1" height="54" fill="#32cd32"/>
<rect x="668" y="144" width="3" height="43" fill="#32cd32"/>
<rect x="673" y="143" width="1" height="56" fill="#ff0000"/>
<rect x="672" y="149" width="3" height="38" fill="#ff0000"/>
<rect x="673" y="150" width="1" height="36" fill="#ff4500"/>
<rect x="677" y="143" width="1" height="11" fill="#32cd32"/>
<rect x="676" y="145" width="3" height="8" fill="#32cd32"/>
<rect x="681" y="139" width="1" height="47" fill="#32cd32"/>
<rect x="680" y="152" width="3" height="14" fill="#32cd32"/>
<rect x="685" y="136" width="1" height="47" fill="#ff0000"/>
<rect x="684" y="155" width="3" height="11" fill="#ff0000"/>
<rect x="685" y="156" width="1" height="9" fill="#ff4500"/>
<rect x="689" y="138" width="1" height="49" fill="#32cd32"/>
<rect x="688" y="155" width="3" height="29" fill="#32cd32"/>
<rect x="693" y="164" width="1" height="35" fill="#32cd32"/>
<rect x="692" y="182" width="3" height="11" fill="#32cd32"/>
<rect x="697" y="181" width="1" height="26" fill="#ff0000"/>
<rect x="696" y="189" width="3" height="4" fill="#ff0000"/>
<rect x="697" y="190" width="1" height="2" fill="#ff4500"/>
<rect x="701" y="187" width="1" height="12" fill="#ff0000"/>
<rect x="700" y="187" width="3" height="4" fill="#ff0000"/>
<rect x="701" y="188" width="1" height="2" fill="#ff4500"/>
<rect x="705" y="179" width="1" height="26" fill="#32cd32"/>
<rect x="704" y="187" width="3" height="15" fill="#32cd32"/>
<rect x="709" y="186" width="1" height="25" fill="#32cd32"/>
<rect x="708" y="201" width="3" height="1" fill="#32cd32"/>
<rect x="713" y="178" width="1" height="59" fill="#32cd32"/>
<rect x="712" y="201" width="3" height="26" fill="#32cd32"/>
<rect x="717" y="193" width="1" height="40" fill="#000000"/>
<rect x="716" y="226" width="3" height="1" fill="#000000"/>
<rect x="721" y="219" width="1" height="37" fill="#32cd32"/>
<rect x="720" y="226" width="3" height="17" fill="#32cd32"/>
<rect x="725" y="237" width="1" height="18" fill="#ff0000"/>
<rect x="724" y="241" width="3" height="14" fill="#ff0000"/>
<rect x="725" y="242" width="1" height="12" fill="#ff4500"/>
<rect x="729" y="179" width="1" height="66" fill="#ff0000"/>
<rect x="728" y="191" width="3" height="51" fill="#ff0000"/>
<rect x="729" y="192" width="1" height="49" fill="#ff4500"/>
<rect x="733" y="184" width="1" height="45" fill="#32cd32"/>
<rect x="732" y="191" width="3" height="18" fill="#32cd32"/>
<rect x="737" y="191" width="1" height="35" fill="#ff0000"/>
<rect x="736" y="199" width="3" height="10" fill="#ff0000"/>
<rect x="737" y="200" width="1" height="8" fill="#ff4500"/>
<rect x="741" y="160" width="1" height="45" fill="#ff0000"/>
<rect x="740" y="167" width="3" height="33" fill="#ff0000"/>
<rect x="741" y="168" width="1" height="31" fill="#ff4500"/>
<rect x="745" y="153" width="1" height="39" fill="#32cd32"/>
<rect x="744" y="167" width="3" height="25" fill="#32cd32"/>
<rect x="749" y="184" width="1" height="6" fill="#ff0000"/>
<rect x="748" y="187" width="3" height="3" fill="#ff0000"/>
<rect x="749" y="188" width="1" height="1" fill="#ff4500"/>
<rect x="753" y="120" width="1" height="71" fill="#ff0000"/>
<rect x="752" y="122" width="3" height="66" fill="#ff0000"/>
<rect x="753" y="123" width="1" height="64" fill="#ff4500"/>
<rect x="757" y="117" width="1" height="39" fill="#32cd32"/>
<rect x="756" y="122" width="3" height="30" fill="#32cd32"/>
<rect x="761" y="144" width="1" height="90" fill="#32cd32"/>
<rect x="760" y="151" width="3" height="74" fill="#32cd32"/>
<rect x="765" y="219" width="1" height="45" fill="#32cd32"/>
<rect x="764" y="224" width="3" height="25" fill="#32cd32"/>
<rect x="769" y="224" width="1" height="38" fill="#ff0000"/>
<rect x="768" y="227" width="3" height="22" fill="#ff0000"/>
<rect x="769" y="228" width="1" height="20" fill="#ff4500"/>
<rect x="773" y="219" width="1" height="15" fill="#ff0000"/>
<rect x="772" y="222" width="3" height="12" fill="#ff0000"/>
<rect x="773" y="223" width="1" height="10" fill="#ff4500"/>
<rect x="777" y="211" width="1" height="30" fill="#32cd32"/>
<rect x="776" y="222" width="3" height="5" fill="#32cd32"/>
<rect x="781" y="195" width="1" height="38" fill="#ff0000"/>
<rect x="780" y="201" width="3" height="26" fill="#ff0000"/>
<rect x="781" y="202" width="1" height="24" fill="#ff4500"/>
<rect x="785" y="196" width="1" height="27" fill="#32cd32"/>
<rect x="784" y="201" width="3" height="13" fill="#32cd32"/>
<rect x="789" y="193" width="1" height="34" fill="#ff0000"/>
<rect x="788" y="203" width="3" height="11" fill="#ff0000"/>
<rect x="789" y="204" width="1" height="9" fill="#ff4500"/>
<rect x="793" y="200" width="1" height="51" fill="#32cd32"/>
<rect x="792" y="203" width="3" height="42" fill="#32cd32"/>
<rect x="797" y="236" width="1" height="12" fill="#ff0000"/>
<rect x="796" y="236" width="3" height="12" fill="#ff0000"/>
<rect x="797" y="237" width="1" height="10" fill="#ff4500"/>
<rect x="801" y="211" width="1" height="40" fill="#ff0000"/>
<rect x="800" y="224" width="3" height="13" fill="#ff0000"/>
<rect x="801" y="225" width="1" height="11" fill="#ff4500"/>
<rect x="805" y="176" width="1" height="50" fill="#ff0000"/>
<rect x="804" y="195" width="3" height="31" fill="#ff0000"/>
<rect x="805" y="196" width="1" height="29" fill="#ff4500"/>
<rect x="809" y="143" width="1" height="59" fill="#ff0000"/>
<rect x="808" y="147" width="3" height="49" fill="#ff0000"/>
<rect x="809" y="148" width="1" height="47" fill="#ff4500"/>
<rect x="813" y="71" width="1" height="79" fill="#ff0000"/>
<rect x="812" y="92" width="3" height="56" fill="#ff0000"/>
<rect x="813" y="93" width="1" height="54" fill="#ff4500"/>
<rect x="817" y="77" width="1" height="32" fill="#32cd32"/>
<rect x="816" y="92" width="3" height="1" fill="#32cd32"/>
<rect x="821" y="86" width="1" height="11" fill="#ff0000"/>
<rect x="820" y="91" width="3" height="5" fill="#ff0000"/>
<rect x="821" y="92" width="1" height="3" fill="#ff4500"/>
<rect x="825" y="67" width="1" height="72" fill="#32cd32"/>
<rect x="824" y="91" width="3" height="33" fill="#32cd32"/>
<rect x="829" y="118" width="1" height="57" fill="#32cd32"/>
<rect x="828" y="123" width="3" height="48" fill="#32cd32"/>
<rect x="833" y="161" width="1" height="36" fill="#32cd32"/>
<rect x="832" y="170" width="3" height="17" fill="#32cd32"/>
<rect x="837" y="151" width="1" height="46" fill="#ff0000"/>
<rect x="836" y="176" width="3" height="10" fill="#ff0000"/>
<rect x="837" y="177" width="1" height="8" fill="#ff4500"/>
<rect x="841" y="133" width="1" height="52" fill="#ff0000"/>
<rect x="840" y="135" width="3" height="41" fill="#ff0000"/>
<rect x="841" y="136" width="1" height="39" fill="#ff4500"/>
<rect x="845" y="134" width="1" height="7" fill="#32cd32"/>
<rect x="844" y="135" width="3" height="4" fill="#32cd32"/>
<rect x="849" y="130" width="1" height="33" fill="#32cd32"/>
<rect x="848" y="138" width="3" height="18" fill="#32cd32"/>
<rect x="853" y="129" width="1" height="30" fill="#ff0000"/>
<rect x="852" y="139" width="3" height="16" fill="#ff0000"/>
<rect x="853" y="140" width="1" height="14" fill="#ff4500"/>
<rect x="857" y="136" width="1" height="26" fill="#32cd32"/>
<rect x="856" y="139" width="3" height="7" fill="#32cd32"/>
<rect x="861" y="102" width="1" height="57" fill="#ff0000"/>
<rect x="860" y="133" width="3" height="13" fill="#ff0000"/>
<rect x="861" y="134" width="1" height="11" fill="#ff4500"/>
<rect x="865" y="110" width="1" height="37" fill="#32cd32"/>
<rect x="864" y="133" width="3" height="5" fill="#32cd32"/>
<rect x="869" y="136" width="1" height="8" fill="#ff0000"/>
<rect x="868" y="141" width="3" height="3" fill="#ff0000"/>
<rect x="869" y="142" width="1" height="1" fill="#ff4500"/>
<rect x="873" y="122" width="1" height="28" fill="#32cd32"/>
<rect x="872" y="141" width="3" height="3" fill="#32cd32"/>
<rect x="877" y="121" width="1" height="38" fill="#ff0000"/>
<rect x="876" y="135" width="3" height="9" fill="#ff0000"/>
<rect x="877" y="136" width="1" height="7" fill="#ff4500"/>
<rect x="881" y="131" width="1" height="44" fill="#32cd32"/>
<rect x="880" y="135" width="3" height="30" fill="#32cd32"/>
<rect x="885" y="156" width="1" height="33" fill="#32cd32"/>
<rect x="884" y="164" width="3" height="17" fill="#32cd32"/>
<rect x="889" y="164" width="1" height="22" fill="#ff0000"/>
<rect x="888" y="170" width="3" height="11" fill="#ff0000"/>
<rect x="889" y="171" width="1" height="9" fill="#ff4500"/>
<rect x="893" y="167" width="1" height="7" fill="#32cd32"/>
<rect x="892" y="170" width="3" height="2" fill="#32cd32"/>
<rect x="897" y="166" width="1" height="52" fill="#32cd32"/>
<rect x="896" y="171" width="3" height="41" fill="#32cd32"/>
<rect x="901" y="157" width="1" height="61" fill="#ff0000"/>
<rect x="900" y="166" width="3" height="46" fill="#ff0000"/>
<rect x="901" y="167" width="1" height="44" fill="#ff4500"/>
<rect x="905" y="164" width="1" height="40" fill="#32cd32"/>
<rect x="904" y="166" width="3" height="33" fill="#32cd32"/>
<rect x="909" y="109" width="1" height="92" fill="#ff0000"/>
<rect x="908" y="133" width="3" height="66" fill="#ff0000"/>
<rect x="909" y="134" width="1" height="64" fill="#ff4500"/>
<rect x="913" y="113" width="1" height="43" fill="#ff0000"/>
<rect x="912" y="128" width="3" height="7" fill="#ff0000"/>
<rect x="913" y="129" width="1" height="5" fill="#ff4500"/>
<rect x="917" y="119" width="1" height="20" fill="#ff0000"/>
<rect x="916" y="125" width="3" height="6" fill="#ff0000"/>
<rect x="917" y="126" width="1" height="4" fill="#ff4500"/>
<rect x="921" y="118" width="1" height="88" fill="#32cd32"/>
<rect x="920" y="126" width="3" height="73" fill="#32cd32"/>
</g>
</g>
<g shape-rendering="crispEdges">
<rect x="1165" y="93" width="39" height="11" fill="#ff0000"/>
<rect x="1165" y="171" width="39" height="11" fill="#00ff00"/>
<rect x="1165" y="193" width="39" height="11" fill="#000000"/>
<rect x="1165" y="250" width="39" height="11" fill="#0000ff"/>
<rect x="1165" y="328" width="39" height="11" fill="#0000ff"/>
</g>
<text x="1168.7" y="102" font-size="9" fill="#fff" textLength="33.3" lengthAdjust="spacingAndGlyphs" stroke="#fff" stroke-width="0.15">0.93006</text>
<text x="1168.7" y="180" font-size="9" fill="#fff" textLength="33.3" lengthAdjust="spacingAndGlyphs" stroke="#fff" stroke-width="0.15">0.92009</text>
<text x="1168.7" y="202" font-size="9" fill="#fff" textLength="33.3" lengthAdjust="spacingAndGlyphs" stroke="#fff" stroke-width="0.15">0.91741</text>
<text x="1168.7" y="259" font-size="9" fill="#fff" textLength="33.3" lengthAdjust="spacingAndGlyphs" stroke="#fff" stroke-width="0.15">0.91002</text>
<text x="1168.7" y="337" font-size="9" fill="#fff" textLength="33.3" lengthAdjust="spacingAndGlyphs" stroke="#fff" stroke-width="0.15">0.90007</text>
<path d="M4 34.5 L7.5 30 L11 34.5 Z" fill="#000"/>
<text x="15.8" y="35" font-size="9" fill="#000" textLength="67.6" lengthAdjust="spacingAndGlyphs" stroke="#000" stroke-width="0.15">USDCHF-,Daily</text>
<text x="89.6" y="35" font-size="9" fill="#000" textLength="33.3" lengthAdjust="spacingAndGlyphs" stroke="#000" stroke-width="0.15">0.92665</text>
<text x="125.53" y="35" font-size="9" fill="#000" textLength="33.3" lengthAdjust="spacingAndGlyphs" stroke="#000" stroke-width="0.15">0.92768</text>
<text x="161.46" y="35" font-size="9" fill="#000" textLength="33.3" lengthAdjust="spacingAndGlyphs" stroke="#000" stroke-width="0.15">0.91652</text>
<text x="197.39" y="35" font-size="9" fill="#000" textLength="33.3" lengthAdjust="spacingAndGlyphs" stroke="#000" stroke-width="0.15">0.91741</text>
<text x="5.1" y="417" font-size="9" fill="#000" textLength="66.3" lengthAdjust="spacingAndGlyphs" stroke="#000" stroke-width="0.15">MACD(12,26,9)</text>
<text x="73.9" y="417" font-size="9" fill="#000" textLength="37.8" lengthAdjust="spacingAndGlyphs" stroke="#000" stroke-width="0.15">0.000107</text>
<text x="114.7" y="417" font-size="9" fill="#000" textLength="38.4" lengthAdjust="spacingAndGlyphs" stroke="#000" stroke-width="0.15">0.000091</text>
<text x="5.1" y="488" font-size="9" fill="#000" textLength="31.9" lengthAdjust="spacingAndGlyphs" stroke="#000" stroke-width="0.15">RSI(14)</text>
<text x="39.4" y="488" font-size="9" fill="#000" textLength="33.9" lengthAdjust="spacingAndGlyphs" stroke="#000" stroke-width="0.15">44.2219</text>
<g shape-rendering="crispEdges">
<rect x="2" y="41" width="223" height="60" fill="#fff"/>
<rect x="4" y="43" width="52" height="1" fill="#5959f5"/>
<rect x="171" y="43" width="52" height="1" fill="#5959f5"/>
<rect x="4" y="44" width="52" height="1" fill="#5757f4"/>
<rect x="171" y="44" width="52" height="1" fill="#5757f4"/>
<rect x="4" y="45" width="52" height="1" fill="#5656f3"/>
<rect x="171" y="45" width="52" height="1" fill="#5656f3"/>
<rect x="4" y="46" width="52" height="1" fill="#5454f2"/>
<rect x="171" y="46" width="52" height="1" fill="#5454f2"/>
<rect x="4" y="47" width="52" height="1" fill="#5252f1"/>
<rect x="171" y="47" width="52" height="1" fill="#5252f1"/>
<rect x="4" y="48" width="52" height="1" fill="#5050f0"/>
<rect x="171" y="48" width="52" height="1" fill="#5050f0"/>
<rect x="4" y="49" width="52" height="1" fill="#4e4ef0"/>
<rect x="171" y="49" width="52" height="1" fill="#4e4ef0"/>
<rect x="4" y="50" width="52" height="1" fill="#4d4def"/>
<rect x="171" y="50" width="52" height="1" fill="#4d4def"/>
<rect x="4" y="51" width="52" height="1" fill="#4b4bee"/>
<rect x="171" y="51" width="52" height="1" fill="#4b4bee"/>
<rect x="4" y="52" width="52" height="1" fill="#4949ed"/>
<rect x="171" y="52" width="52" height="1" fill="#4949ed"/>
<rect x="4" y="53" width="52" height="1" fill="#4747ec"/>
<rect x="171" y="53" width="52" height="1" fill="#4747ec"/>
<rect x="4" y="54" width="52" height="1" fill="#4545ec"/>
<rect x="171" y="54" width="52" height="1" fill="#4545ec"/>
<rect x="4" y="55" width="52" height="1" fill="#4444eb"/>
<rect x="171" y="55" width="52" height="1" fill="#4444eb"/>
<rect x="4" y="56" width="52" height="1" fill="#4242ea"/>
<rect x="171" y="56" width="52" height="1" fill="#4242ea"/>
<rect x="4" y="57" width="52" height="1" fill="#4040e9"/>
<rect x="171" y="57" width="52" height="1" fill="#4040e9"/>
<rect x="4" y="58" width="52" height="1" fill="#3e3ee8"/>
<rect x="171" y="58" width="52" height="1" fill="#3e3ee8"/>
<rect x="4" y="59" width="52" height="1" fill="#3c3ce7"/>
<rect x="171" y="59" width="52" height="1" fill="#3c3ce7"/>
<rect x="4" y="60" width="52" height="1" fill="#3b3be7"/>
<rect x="171" y="60" width="52" height="1" fill="#3b3be7"/>
<rect x="4" y="61" width="52" height="1" fill="#3939e6"/>
<rect x="171" y="61" width="52" height="1" fill="#3939e6"/>
<rect x="4" y="62" width="52" height="1" fill="#3737e5"/>
<rect x="171" y="62" width="52" height="1" fill="#3737e5"/>
<rect x="4" y="63" width="52" height="1" fill="#3535e4"/>
<rect x="171" y="63" width="52" height="1" fill="#3535e4"/>
<rect x="4" y="64" width="52" height="1" fill="#3333e3"/>
<rect x="171" y="64" width="52" height="1" fill="#3333e3"/>
<rect x="4" y="65" width="52" height="1" fill="#3232e3"/>
<rect x="171" y="65" width="52" height="1" fill="#3232e3"/>
<rect x="4" y="66" width="52" height="1" fill="#3030e2"/>
<rect x="171" y="66" width="52" height="1" fill="#3030e2"/>
<rect x="4" y="67" width="109" height="1" fill="#2e2ee1"/>
<rect x="115" y="67" width="108" height="1" fill="#2e2ee1"/>
<rect x="4" y="68" width="109" height="1" fill="#2c2ce0"/>
<rect x="115" y="68" width="108" height="1" fill="#2c2ce0"/>
<rect x="4" y="69" width="109" height="1" fill="#2b2bdf"/>
<rect x="115" y="69" width="108" height="1" fill="#2b2bdf"/>
<rect x="4" y="70" width="109" height="1" fill="#2929dd"/>
<rect x="115" y="70" width="108" height="1" fill="#2929dd"/>
<rect x="4" y="71" width="109" height="1" fill="#2828dc"/>
<rect x="115" y="71" width="108" height="1" fill="#2828dc"/>
<rect x="4" y="72" width="109" height="1" fill="#2727db"/>
<rect x="115" y="72" width="108" height="1" fill="#2727db"/>
<rect x="4" y="73" width="109" height="1" fill="#2525d9"/>
<rect x="115" y="73" width="108" height="1" fill="#2525d9"/>
<rect x="4" y="74" width="109" height="1" fill="#2424d8"/>
<rect x="115" y="74" width="108" height="1" fill="#2424d8"/>
<rect x="4" y="75" width="109" height="1" fill="#2222d6"/>
<rect x="115" y="75" width="108" height="1" fill="#2222d6"/>
<rect x="4" y="76" width="109" height="1" fill="#2121d5"/>
<rect x="115" y="76" width="108" height="1" fill="#2121d5"/>
<rect x="4" y="77" width="109" height="1" fill="#2020d4"/>
<rect x="115" y="77" width="108" height="1" fill="#2020d4"/>
<rect x="4" y="78" width="109" height="1" fill="#1e1ed2"/>
<rect x="115" y="78" width="108" height="1" fill="#1e1ed2"/>
<rect x="4" y="79" width="109" height="1" fill="#1d1dd1"/>
<rect x="115" y="79" width="108" height="1" fill="#1d1dd1"/>
<rect x="4" y="80" width="109" height="1" fill="#1b1bcf"/>
<rect x="115" y="80" width="108" height="1" fill="#1b1bcf"/>
<rect x="4" y="81" width="109" height="1" fill="#1a1ace"/>
<rect x="115" y="81" width="108" height="1" fill="#1a1ace"/>
<rect x="4" y="82" width="109" height="1" fill="#1919cd"/>
<rect x="115" y="82" width="108" height="1" fill="#1919cd"/>
<rect x="4" y="83" width="109" height="1" fill="#1717cb"/>
<rect x="115" y="83" width="108" height="1" fill="#1717cb"/>
<rect x="4" y="84" width="109" height="1" fill="#1616ca"/>
<rect x="115" y="84" width="108" height="1" fill="#1616ca"/>
<rect x="4" y="85" width="109" height="1" fill="#1414c8"/>
<rect x="115" y="85" width="108" height="1" fill="#1414c8"/>
<rect x="4" y="86" width="109" height="1" fill="#1313c7"/>
<rect x="115" y="86" width="108" height="1" fill="#1313c7"/>
<rect x="4" y="87" width="109" height="1" fill="#1212c6"/>
<rect x="115" y="87" width="108" height="1" fill="#1212c6"/>
<rect x="4" y="88" width="109" height="1" fill="#1010c4"/>
<rect x="115" y="88" width="108" height="1" fill="#1010c4"/>
<rect x="4" y="89" width="109" height="1" fill="#0f0fc3"/>
<rect x="115" y="89" width="108" height="1" fill="#0f0fc3"/>
<rect x="4" y="90" width="109" height="1" fill="#0d0dc1"/>
<rect x="115" y="90" width="108" height="1" fill="#0d0dc1"/>
<rect x="4" y="91" width="109" height="1" fill="#0c0cc0"/>
<rect x="115" y="91" width="108" height="1" fill="#0c0cc0"/>
<rect x="4" y="92" width="109" height="1" fill="#0b0bbf"/>
<rect x="115" y="92" width="108" height="1" fill="#0b0bbf"/>
<rect x="4" y="93" width="109" height="1" fill="#0909bd"/>
<rect x="115" y="93" width="108" height="1" fill="#0909bd"/>
<rect x="4" y="94" width="109" height="1" fill="#0808bc"/>
<rect x="115" y="94" width="108" height="1" fill="#0808bc"/>
<rect x="4" y="95" width="109" height="1" fill="#0606ba"/>
<rect x="115" y="95" width="108" height="1" fill="#0606ba"/>
<rect x="4" y="96" width="109" height="1" fill="#0505b9"/>
<rect x="115" y="96" width="108" height="1" fill="#0505b9"/>
<rect x="4" y="97" width="109" height="1" fill="#0404b8"/>
<rect x="115" y="97" width="108" height="1" fill="#0404b8"/>
<rect x="4" y="98" width="109" height="1" fill="#0202b6"/>
<rect x="115" y="98" width="108" height="1" fill="#0202b6"/>
<rect x="4" y="99" width="109" height="1" fill="#0101b5"/>
<rect x="115" y="99" width="108" height="1" fill="#0101b5"/>
<path d="M4.5 43.5 H55.5 V67.5 H112.5 V99.5 H4.5 Z" fill="none" stroke="#0000b4" stroke-width="1"/>
<path d="M171.5 43.5 H222.5 V99.5 H115.5 V67.5 H171.5 Z" fill="none" stroke="#0000b4" stroke-width="1"/>
<rect x="8" y="66" width="44" height="1" fill="#00007a"/>
<rect x="8" y="67" width="44" height="1" fill="#8c8cf5"/>
<rect x="175" y="66" width="44" height="1" fill="#00007a"/>
<rect x="175" y="67" width="44" height="1" fill="#8c8cf5"/>
<rect x="58" y="43" width="111" height="22" fill="#b4b4b4"/>
<rect x="59" y="44" width="109" height="20" fill="#fff"/>
<rect x="60" y="45" width="19" height="1" fill="#f3f3f3"/>
<rect x="60" y="46" width="19" height="1" fill="#f2f2f2"/>
<rect x="60" y="47" width="19" height="1" fill="#f0f0f0"/>
<rect x="60" y="48" width="19" height="1" fill="#eeeeee"/>
<rect x="60" y="49" width="19" height="1" fill="#ededed"/>
<rect x="60" y="50" width="19" height="1" fill="#ebebeb"/>
<rect x="60" y="51" width="19" height="1" fill="#e9e9e9"/>
<rect x="60" y="52" width="19" height="1" fill="#e8e8e8"/>
<rect x="60" y="53" width="19" height="1" fill="#e6e6e6"/>
<rect x="60" y="54" width="19" height="1" fill="#d8d8d8"/>
<rect x="60" y="55" width="19" height="1" fill="#d7d7d7"/>
<rect x="60" y="56" width="19" height="1" fill="#d5d5d5"/>
<rect x="60" y="57" width="19" height="1" fill="#d4d4d4"/>
<rect x="60" y="58" width="19" height="1" fill="#d3d3d3"/>
<rect x="60" y="59" width="19" height="1" fill="#d1d1d1"/>
<rect x="60" y="60" width="19" height="1" fill="#d0d0d0"/>
<rect x="60" y="61" width="19" height="1" fill="#cfcfcf"/>
<rect x="60" y="62" width="19" height="1" fill="#cecece"/>
<rect x="149" y="45" width="19" height="1" fill="#f3f3f3"/>
<rect x="149" y="46" width="19" height="1" fill="#f2f2f2"/>
<rect x="149" y="47" width="19" height="1" fill="#f0f0f0"/>
<rect x="149" y="48" width="19" height="1" fill="#eeeeee"/>
<rect x="149" y="49" width="19" height="1" fill="#ededed"/>
<rect x="149" y="50" width="19" height="1" fill="#ebebeb"/>
<rect x="149" y="51" width="19" height="1" fill="#e9e9e9"/>
<rect x="149" y="52" width="19" height="1" fill="#e8e8e8"/>
<rect x="149" y="53" width="19" height="1" fill="#e6e6e6"/>
<rect x="149" y="54" width="19" height="1" fill="#d8d8d8"/>
<rect x="149" y="55" width="19" height="1" fill="#d7d7d7"/>
<rect x="149" y="56" width="19" height="1" fill="#d5d5d5"/>
<rect x="149" y="57" width="19" height="1" fill="#d4d4d4"/>
<rect x="149" y="58" width="19" height="1" fill="#d3d3d3"/>
<rect x="149" y="59" width="19" height="1" fill="#d1d1d1"/>
<rect x="149" y="60" width="19" height="1" fill="#d0d0d0"/>
<rect x="149" y="61" width="19" height="1" fill="#cfcfcf"/>
<rect x="149" y="62" width="19" height="1" fill="#cecece"/>
<rect x="79" y="44" width="1" height="20" fill="#c0c0c0"/>
<rect x="147" y="44" width="1" height="20" fill="#c0c0c0"/>
</g>
<path d="M66 52.6 H71.2 L68.6 55.6 Z" fill="#5a6ebe"/>
<path d="M155 55.4 H160.2 L157.6 52.4 Z" fill="#5a6ebe"/>
<text x="120.3" y="58" font-size="12" fill="#000" textLength="23.6" lengthAdjust="spacingAndGlyphs" stroke="#000" stroke-width="0.15">1.00</text>
<text x="16.0" y="59" font-size="12" fill="#fff" textLength="26.2" lengthAdjust="spacingAndGlyphs">SELL</text>
<text x="184.3" y="59" font-size="12" fill="#fff" textLength="24.0" lengthAdjust="spacingAndGlyphs">BUY</text>
<text x="23.6" y="95" font-size="11.5" fill="#fff" textLength="25.0" lengthAdjust="spacingAndGlyphs" font-weight="bold">0.91</text>
<text x="133.6" y="95" font-size="11.5" fill="#fff" textLength="25.0" lengthAdjust="spacingAndGlyphs" font-weight="bold">0.91</text>
<text x="50.3" y="95" font-size="33.5" fill="#fff" textLength="37.8" lengthAdjust="spacingAndGlyphs">74</text>
<text x="161.3" y="95" font-size="33.5" fill="#fff" textLength="37.2" lengthAdjust="spacingAndGlyphs">76</text>
<text x="91.3" y="79" font-size="11.5" fill="#fff" textLength="7.3" lengthAdjust="spacingAndGlyphs" font-weight="bold">1</text>
<text x="202.3" y="79" font-size="11.5" fill="#fff" textLength="7.1" lengthAdjust="spacingAndGlyphs" font-weight="bold">5</text>
<g shape-rendering="crispEdges">
<rect x="0" y="568" width="1204" height="1" fill="#e6e6e6"/>
<rect x="0" y="570" width="1204" height="1" fill="#000"/>
<rect x="0" y="571" width="1204" height="1" fill="#fff"/>
<rect x="0" y="572" width="1204" height="18" fill="#f0f0f0"/>
<rect x="0" y="590" width="1204" height="1" fill="#fff"/>
<rect x="317" y="571" width="110" height="18" fill="#fff"/>
<rect x="318" y="570" width="1" height="19" fill="#000"/>
<rect x="425" y="570" width="1" height="19" fill="#000"/>
<rect x="318" y="588" width="108" height="1" fill="#000"/>
<rect x="319" y="570" width="106" height="1" fill="#fff"/>
<rect x="102" y="573" width="1" height="14" fill="#555"/>
<rect x="210" y="573" width="1" height="14" fill="#555"/>
<rect x="534" y="573" width="1" height="14" fill="#555"/>
<rect x="646" y="573" width="1" height="14" fill="#555"/>
<rect x="746" y="573" width="1" height="14" fill="#555"/>
<rect x="838" y="573" width="1" height="14" fill="#555"/>
<rect x="926" y="573" width="1" height="14" fill="#555"/>
<rect x="1010" y="573" width="1" height="14" fill="#555"/>
</g>
<text x="13.2" y="585" font-size="12" fill="#6c6c6c" textLength="78.2" lengthAdjust="spacingAndGlyphs">USDX,Weekly</text>
<text x="112.5" y="585" font-size="12" fill="#6c6c6c" textLength="86.2" lengthAdjust="spacingAndGlyphs">EURUSD-,Daily</text>
<text x="219.5" y="585" font-size="12" fill="#6c6c6c" textLength="88.0" lengthAdjust="spacingAndGlyphs">AUDUSD-,Daily</text>
<text x="330.1" y="585" font-size="12" fill="#000" textLength="84.4" lengthAdjust="spacingAndGlyphs">USDCHF-,Daily</text>
<text x="436.8" y="585" font-size="12" fill="#6c6c6c" textLength="86.7" lengthAdjust="spacingAndGlyphs">USDCAD-,Daily</text>
<text x="545.9" y="585" font-size="12" fill="#6c6c6c" textLength="88.5" lengthAdjust="spacingAndGlyphs">USDCNH-,Daily</text>
<text x="656.7" y="585" font-size="12" fill="#6c6c6c" textLength="76.9" lengthAdjust="spacingAndGlyphs">XAUUSD-,M5</text>
<text x="757.0" y="585" font-size="12" fill="#6c6c6c" textLength="69.7" lengthAdjust="spacingAndGlyphs">UKOil-,Daily</text>
<text x="849.9" y="585" font-size="12" fill="#6c6c6c" textLength="64.7" lengthAdjust="spacingAndGlyphs">DJ30-,Daily</text>
<text x="936.8" y="585" font-size="12" fill="#6c6c6c" textLength="62.2" lengthAdjust="spacingAndGlyphs">UK100-,H1</text>
<path d="M1182 575.7 V582.5 L1178.6 579.1 Z" fill="#8c8c8c"/>
<path d="M1198 575.7 V582.5 L1201.4 579.1 Z" fill="#8c8c8c"/>
</svg></body></html>
